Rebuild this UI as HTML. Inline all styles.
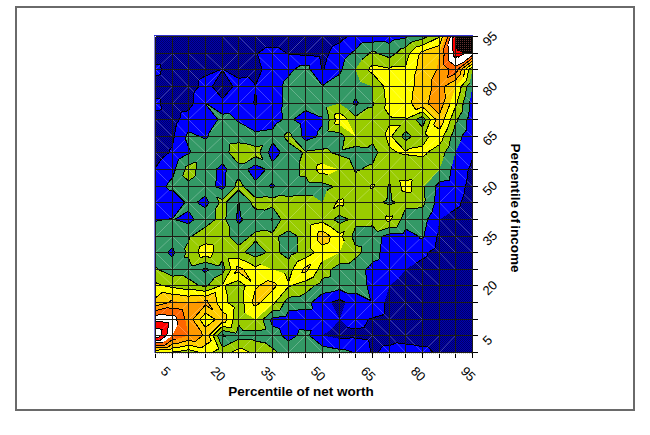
<!DOCTYPE html>
<html><head><meta charset="utf-8"><style>
html,body{margin:0;padding:0;background:#fff;}
body{width:650px;height:435px;overflow:hidden;}
svg{display:block;}
.tl{font-family:"Liberation Sans",Arial,sans-serif;font-size:13px;fill:#000;}
.tt{font-family:"Liberation Sans",Arial,sans-serif;font-size:13.5px;font-weight:bold;fill:#000;}
.dg{fill:none;stroke:#fff;stroke-opacity:0.25;stroke-width:1;}
.cl{fill:none;stroke:#000;stroke-width:1;}
</style></head><body>
<svg width="650" height="435" viewBox="0 0 650 435">
<defs>
<pattern id="navy" width="2" height="2" patternUnits="userSpaceOnUse"><rect width="2" height="2" fill="#0000B0"/><rect width="1" height="1" fill="#000068"/><rect x="1" y="1" width="1" height="1" fill="#000068"/></pattern>
<pattern id="dark" width="2" height="2" patternUnits="userSpaceOnUse"><rect width="2" height="2" fill="#000"/><rect width="1" height="1" fill="#603030"/></pattern>
</defs>
<rect x="16" y="7" width="618" height="403" fill="none" stroke="#6a6a6a" stroke-width="2"/>
<g shape-rendering="crispEdges">
<path fill="url(#navy)" d="M155.5 36.5L172.5 36.5L172.5 53.5ZM155.5 36.5L172.5 53.5L155.5 53.5ZM172.5 36.5L188.5 36.5L188.5 53.5ZM172.5 36.5L188.5 53.5L172.5 53.5ZM188.5 36.5L205.5 36.5L205.5 53.5ZM188.5 36.5L205.5 53.5L188.5 53.5ZM205.5 36.5L222.5 36.5L222.5 53.5ZM205.5 36.5L222.5 53.5L205.5 53.5ZM222.5 36.5L238.5 36.5L238.5 53.5ZM222.5 36.5L238.5 53.5L222.5 53.5ZM238.5 36.5L255.5 36.5L255.5 53.5ZM238.5 36.5L255.5 53.5L238.5 53.5ZM255.5 36.5L272.5 36.5L272.5 47.32L266.32 47.32ZM255.5 36.5L266.32 47.32L257.39 53.5L255.5 53.5ZM272.5 36.5L288.5 36.5L278.32 47.32L272.5 47.32ZM288.5 36.5L288.5 53.5L286.72 53.5L278.32 47.32ZM288.5 36.5L305.5 36.5L288.5 53.5ZM305.5 36.5L305.5 53.5L288.5 53.5ZM305.5 36.5L322.5 36.5L305.5 53.5ZM322.5 36.5L322.5 53.5L305.5 53.5ZM322.5 36.5L339.5 36.5L339.5 42.88L332.42 46.42ZM322.5 36.5L332.42 46.42L328.88 53.5L322.5 53.5ZM339.5 36.5L347.5 36.5L342.7 39.9ZM339.5 36.5L342.7 39.9L339.5 42.88ZM155.5 53.5L172.5 53.5L160.6 64.7L155.5 64.7ZM172.5 53.5L172.5 69.5L161.17 69.5L160.6 64.7ZM172.5 53.5L188.5 53.5L188.5 69.5ZM172.5 53.5L188.5 69.5L172.5 69.5ZM188.5 53.5L205.5 53.5L205.5 69.5ZM188.5 53.5L205.5 69.5L188.5 69.5ZM205.5 53.5L222.5 53.5L222.5 69.06L222.03 69.06ZM205.5 53.5L222.03 69.06L220.95 69.5L205.5 69.5ZM222.5 53.5L238.5 53.5L223.26 68.74L222.5 69.06ZM238.5 53.5L238.5 69.5L223.5 69.5L223.26 68.74ZM238.5 53.5L255.5 53.5L238.5 69.5ZM255.5 53.5L255.5 69.5L238.5 69.5ZM255.5 53.5L257.39 53.5L257.86 55.72ZM255.5 53.5L257.86 55.72L262.17 69.5L255.5 69.5ZM286.72 53.5L288.5 53.5L288.5 54.44ZM288.5 53.5L305.5 53.5L305.5 55.5L289.09 54.05ZM288.5 53.5L289.09 54.05L288.5 54.44ZM305.5 53.5L322.5 53.5L319.5 56.32L305.5 55.5ZM322.5 53.5L322.5 69.5L321.69 69.5L319.5 56.32ZM322.5 53.5L328.88 53.5L327.14 57.86ZM322.5 53.5L327.14 57.86L323.87 69.5L322.5 69.5ZM161.17 69.5L172.5 69.5L172.5 86.5L160.6 74.6ZM160.6 74.6L172.5 86.5L155.5 86.5L155.5 75.88ZM172.5 69.5L188.5 69.5L188.5 86.5ZM172.5 69.5L188.5 86.5L172.5 86.5ZM188.5 69.5L205.5 69.5L205.5 75.92L198.74 79.74ZM188.5 69.5L198.74 79.74L198.74 86.5L188.5 86.5ZM205.5 69.5L220.95 69.5L205.5 75.92ZM222.5 70.15L222.5 86.5L212.26 86.5ZM223.5 69.5L238.5 69.5L238.5 78.45ZM232.89 86.5L222.5 86.5L222.5 70.15ZM238.5 69.5L255.5 69.5L248.27 76.73L238.5 78.45ZM255.5 69.5L255.5 84.95L248.27 76.73ZM255.5 69.5L262.17 69.5L255.5 84.95ZM321.69 69.5L322.5 69.5L322.5 70.56ZM322.5 69.5L323.87 69.5L322.5 70.56ZM155.5 86.5L172.5 86.5L159.97 99.03L155.5 97.83ZM172.5 86.5L172.5 103.5L160.5 103.5L159.97 99.03ZM172.5 86.5L188.5 86.5L172.5 103.5ZM188.5 86.5L188.5 103.5L172.5 103.5ZM188.5 86.5L198.74 86.5L194.06 92.06ZM188.5 86.5L194.06 92.06L193.26 103.5L188.5 103.5ZM212.26 86.5L222.5 86.5L216.94 92.06ZM222.5 86.5L222.5 98.82L216.94 92.06ZM222.5 86.5L232.89 86.5L222.5 98.82ZM255.5 91.36L255.5 103.5L253.61 103.5ZM257.05 103.5L255.5 103.5L255.5 91.36ZM160.5 103.5L172.5 103.5L172.5 119.5L162.04 109.65ZM162.04 109.65L172.5 119.5L155.5 119.5L155.5 110.77ZM172.5 103.5L188.5 103.5L188.5 110.61L181.23 112.23ZM172.5 103.5L181.23 112.23L179.61 119.5L172.5 119.5ZM188.5 103.5L193.26 103.5L188.5 110.61ZM205.5 118.76L205.5 119.5L203.95 119.5ZM206.09 119.5L205.5 119.5L205.5 118.76ZM253.61 103.5L255.5 103.5L255.5 104.95ZM255.5 103.5L257.05 103.5L255.5 104.95ZM155.5 119.5L172.5 119.5L172.5 136.5ZM155.5 119.5L172.5 136.5L155.5 136.5ZM172.5 119.5L179.61 119.5L176.5 123.75ZM172.5 119.5L176.5 123.75L174.28 136.5L172.5 136.5ZM203.95 119.5L205.5 119.5L205.5 120.39ZM205.5 119.5L206.09 119.5L205.5 120.39ZM155.5 136.5L172.5 136.5L172.5 146.1L169.67 149.83ZM155.5 136.5L169.67 149.83L169.1 152.5L155.5 152.5ZM172.5 136.5L174.28 136.5L172.5 146.1ZM155.5 152.5L169.1 152.5L161.68 158.68ZM155.5 152.5L161.68 158.68L155.5 167.61ZM472.5 158.17L472.5 169.5L469.67 166.67ZM469.67 166.67L472.5 169.5L468.25 169.5ZM468.25 169.5L472.5 169.5L472.5 186.5L466.83 180.83ZM466.83 180.83L472.5 186.5L465.21 186.5ZM155.88 202.14L155.5 202.5L155.5 201.59ZM172.5 202.14L172.5 202.5L155.5 202.5L155.88 202.14ZM172.86 202.5L172.5 202.5L172.5 202.14ZM465.21 186.5L472.5 186.5L472.5 202.5L464 194.5ZM464 194.5L472.5 202.5L461.17 202.5ZM155.5 202.5L172.5 202.5L172.5 202.97L155.97 202.97ZM155.5 202.5L155.97 202.97L155.5 203.02ZM172.5 202.5L172.86 202.5L172.5 202.97ZM455.5 209.3L455.5 219.5L449.5 213.12ZM449.5 213.12L455.5 219.5L439.5 219.5L439.5 219.5ZM461.17 202.5L472.5 202.5L472.5 219.5L459.75 206.75ZM459.75 206.75L472.5 219.5L455.5 219.5L455.5 209.3ZM439.5 219.5L439.5 219.5L439.5 236.5L437.38 234.38ZM437.38 234.38L439.5 236.5L436.88 236.5ZM439.5 219.5L455.5 219.5L455.5 236.5ZM439.5 219.5L455.5 236.5L439.5 236.5ZM455.5 219.5L472.5 219.5L472.5 236.5ZM455.5 219.5L472.5 236.5L455.5 236.5ZM436.88 236.5L439.5 236.5L439.5 252.5L434.97 248.23ZM434.97 248.23L439.5 252.5L428.17 252.5ZM439.5 236.5L455.5 236.5L455.5 252.5ZM439.5 236.5L455.5 252.5L439.5 252.5ZM455.5 236.5L472.5 236.5L472.5 252.5ZM455.5 236.5L472.5 252.5L455.5 252.5ZM422.5 259.3L422.5 269.5L416.12 263.12ZM416.12 263.12L422.5 269.5L405.5 269.5L405.5 269.5ZM428.17 252.5L439.5 252.5L439.5 269.5L426.75 256.75ZM426.75 256.75L439.5 269.5L422.5 269.5L422.5 259.3ZM439.5 252.5L455.5 252.5L455.5 269.5ZM439.5 252.5L455.5 269.5L439.5 269.5ZM455.5 252.5L472.5 252.5L472.5 269.5ZM455.5 252.5L472.5 269.5L455.5 269.5ZM405.5 269.5L405.5 269.5L405.5 285.5L398.64 278.64ZM398.64 278.64L405.5 285.5L389.5 285.5L389.5 285.5ZM405.5 269.5L422.5 269.5L422.5 285.5ZM405.5 269.5L422.5 285.5L405.5 285.5ZM422.5 269.5L439.5 269.5L439.5 285.5ZM422.5 269.5L439.5 285.5L422.5 285.5ZM439.5 269.5L455.5 269.5L455.5 285.5ZM439.5 269.5L455.5 285.5L439.5 285.5ZM455.5 269.5L472.5 269.5L472.5 285.5ZM455.5 269.5L472.5 285.5L455.5 285.5ZM339.5 299.5L339.5 302.5L331 302.5ZM345.5 302.5L339.5 302.5L339.5 299.5ZM389.5 285.5L389.5 302.5L384.46 302.5L389.5 285.5ZM389.5 285.5L405.5 285.5L405.5 302.5ZM389.5 285.5L405.5 302.5L389.5 302.5ZM405.5 285.5L422.5 285.5L422.5 302.5ZM405.5 285.5L422.5 302.5L405.5 302.5ZM422.5 285.5L439.5 285.5L439.5 302.5ZM422.5 285.5L439.5 302.5L422.5 302.5ZM439.5 285.5L455.5 285.5L455.5 302.5ZM439.5 285.5L455.5 302.5L439.5 302.5ZM455.5 285.5L472.5 285.5L472.5 302.5ZM455.5 285.5L472.5 302.5L455.5 302.5ZM331 302.5L339.5 302.5L339.5 319.5L339.5 319.5ZM339.5 302.5L345.5 302.5L339.5 319.5L339.5 319.5ZM372.5 317.88L372.5 319.5L368.25 319.5ZM384.46 302.5L389.5 302.5L389.5 319.5L384.46 314.46ZM384.46 314.46L389.5 319.5L372.5 319.5L372.5 317.88ZM389.5 302.5L405.5 302.5L389.5 319.5ZM405.5 302.5L405.5 319.5L389.5 319.5ZM405.5 302.5L422.5 302.5L422.5 319.5ZM405.5 302.5L422.5 319.5L405.5 319.5ZM422.5 302.5L439.5 302.5L439.5 319.5ZM422.5 302.5L439.5 319.5L422.5 319.5ZM439.5 302.5L455.5 302.5L455.5 319.5ZM439.5 302.5L455.5 319.5L439.5 319.5ZM455.5 302.5L472.5 302.5L472.5 319.5ZM455.5 302.5L472.5 319.5L455.5 319.5ZM339.5 319.5L339.5 319.5L339.5 335.5L332.21 328.64ZM332.21 328.64L339.5 335.5L322.5 335.5L322.5 335.5ZM339.5 319.5L339.5 319.5L347.5 327.5L339.5 335.5ZM355.5 329.1L355.5 335.5L339.5 335.5L347.5 327.5ZM368.25 319.5L372.5 319.5L372.5 335.5L364 327.5ZM364 327.5L372.5 335.5L355.5 335.5L355.5 329.1ZM372.5 319.5L389.5 319.5L389.5 335.5ZM372.5 319.5L389.5 335.5L372.5 335.5ZM389.5 319.5L405.5 319.5L405.5 335.5ZM389.5 319.5L405.5 335.5L389.5 335.5ZM405.5 319.5L422.5 319.5L405.5 335.5ZM422.5 319.5L422.5 335.5L405.5 335.5ZM422.5 319.5L439.5 319.5L439.5 335.5ZM422.5 319.5L439.5 335.5L422.5 335.5ZM439.5 319.5L455.5 319.5L455.5 335.5ZM439.5 319.5L455.5 335.5L439.5 335.5ZM455.5 319.5L472.5 319.5L472.5 335.5ZM455.5 319.5L472.5 335.5L455.5 335.5ZM322.5 335.5L339.5 335.5L339.5 338.69L322.5 335.5ZM339.5 335.5L355.5 335.5L353.37 337.77L339.5 338.69ZM355.5 335.5L355.5 338.41L353.37 337.77ZM355.5 335.5L372.5 335.5L368.48 339.52L355.5 338.41ZM372.5 335.5L372.5 352.5L370.91 352.5L368.48 339.52ZM372.5 335.5L389.5 335.5L389.5 345.7L382.7 345.7ZM372.5 335.5L382.7 345.7L378.17 352.5L372.5 352.5ZM389.5 335.5L405.5 335.5L405.5 344L396.36 342.79ZM389.5 335.5L396.36 342.79L389.5 345.7ZM405.5 335.5L422.5 335.5L422.5 346.83L415.21 345.21ZM405.5 335.5L415.21 345.21L405.5 344ZM422.5 335.5L439.5 335.5L428.17 346.83L422.5 346.83ZM439.5 335.5L439.5 352.5L432.7 352.5L428.17 346.83ZM439.5 335.5L455.5 335.5L439.5 352.5ZM455.5 335.5L455.5 352.5L439.5 352.5ZM455.5 335.5L472.5 335.5L472.5 352.5ZM455.5 335.5L472.5 352.5L455.5 352.5Z"/>
<path fill="#0000FF" d="M272.5 47.32L272.5 53.5L266.32 47.32ZM266.32 47.32L272.5 53.5L257.39 53.5ZM278.32 47.32L272.5 53.5L272.5 47.32ZM286.72 53.5L272.5 53.5L278.32 47.32ZM339.5 42.88L339.5 53.5L332.42 46.42ZM332.42 46.42L339.5 53.5L328.88 53.5ZM347.5 36.5L355.5 36.5L355.5 49.72L353.37 51.23L342.7 39.9ZM342.7 39.9L353.37 51.23L350.93 53.5L339.5 53.5L339.5 42.88ZM355.5 36.5L372.5 36.5L372.5 42.17L361.76 42.76ZM355.5 36.5L361.76 42.76L355.5 49.72ZM372.5 36.5L389.5 36.5L384.86 41.14L372.5 42.17ZM389.5 36.5L389.5 43.79L384.86 41.14ZM389.5 36.5L405.5 36.5L405.5 37.96L393.01 40.23ZM389.5 36.5L393.01 40.23L389.5 43.79ZM405.5 36.5L408.9 36.5L406.24 37.24ZM405.5 36.5L406.24 37.24L405.5 37.96ZM160.6 64.7L155.5 69.5L155.5 64.7ZM161.17 69.5L155.5 69.5L160.6 64.7ZM222.5 69.06L222.5 69.5L222.03 69.06ZM222.03 69.06L222.5 69.5L220.95 69.5ZM223.26 68.74L222.5 69.5L222.5 69.06ZM223.5 69.5L222.5 69.5L223.26 68.74ZM257.39 53.5L272.5 53.5L272.5 69.5L257.86 55.72ZM257.86 55.72L272.5 69.5L262.17 69.5ZM272.5 53.5L286.72 53.5L288.5 54.44L288.5 69.5ZM272.5 53.5L288.5 69.5L272.5 69.5ZM305.5 55.5L305.5 65.5L300.81 65.09L289.09 54.05ZM289.09 54.05L300.81 65.09L294.17 69.5L288.5 69.5L288.5 54.44ZM319.5 56.32L309.5 65.74L305.5 65.5L305.5 55.5ZM321.69 69.5L310.13 69.5L309.5 65.74L319.5 56.32ZM328.88 53.5L339.5 53.5L339.5 69.5L327.14 57.86ZM327.14 57.86L339.5 69.5L323.87 69.5ZM339.5 53.5L350.93 53.5L344.83 58.83ZM339.5 53.5L344.83 58.83L342.17 69.5L339.5 69.5ZM155.5 69.5L161.17 69.5L160.6 74.6ZM155.5 69.5L160.6 74.6L155.5 75.88ZM205.5 75.92L205.5 86.5L198.74 79.74ZM198.74 79.74L205.5 86.5L198.74 86.5ZM220.95 69.5L222.5 69.5L205.5 86.5L205.5 75.92ZM222.5 69.5L222.5 70.15L212.26 86.5L205.5 86.5ZM222.5 69.5L223.5 69.5L238.5 78.45L238.5 86.5ZM222.5 69.5L238.5 86.5L232.89 86.5L222.5 70.15ZM248.27 76.73L238.5 86.5L238.5 78.45ZM255.5 84.95L255.5 86.5L238.5 86.5L248.27 76.73ZM262.17 69.5L272.5 69.5L255.5 86.5L255.5 84.95ZM272.5 69.5L272.5 86.5L255.5 86.5ZM272.5 69.5L288.5 69.5L288.5 76.3L283.65 81.35ZM272.5 69.5L283.65 81.35L282.5 86.5L272.5 86.5ZM288.5 69.5L294.17 69.5L288.5 76.3ZM310.13 69.5L321.69 69.5L322.5 70.56L322.5 85.74ZM323.87 69.5L339.5 69.5L325.9 83.1L322.5 85.74L322.5 70.56ZM339.5 69.5L339.5 74.36L325.9 83.1ZM339.5 69.5L342.17 69.5L339.5 74.36ZM159.97 99.03L155.5 103.5L155.5 97.83ZM160.5 103.5L155.5 103.5L159.97 99.03ZM198.74 86.5L205.5 86.5L205.5 102.77L205.17 103.17L194.06 92.06ZM194.06 92.06L205.17 103.17L205.14 103.5L193.26 103.5ZM205.5 86.5L212.26 86.5L216.94 92.06L205.83 103.17L205.5 102.77ZM222.5 98.82L222.5 103.5L206.11 103.5L205.83 103.17L216.94 92.06ZM232.89 86.5L238.5 86.5L222.5 103.5L222.5 98.82ZM238.5 86.5L238.5 103.5L222.5 103.5ZM238.5 86.5L255.5 86.5L238.5 103.5ZM255.5 86.5L255.5 91.36L253.61 103.5L238.5 103.5ZM255.5 86.5L272.5 86.5L272.5 103.5ZM255.5 86.5L272.5 103.5L257.05 103.5L255.5 91.36ZM272.5 86.5L282.5 86.5L282.5 97.12ZM272.5 86.5L282.5 97.12L282.5 103.5L272.5 103.5ZM355.5 98.64L355.5 103.5L352.83 103.5ZM358.59 103.5L355.5 103.5L355.5 98.64ZM472.5 86.5L472.5 86.5L472.5 103.5L470.07 101.07ZM470.07 101.07L472.5 103.5L469.35 103.5ZM155.5 103.5L160.5 103.5L162.04 109.65ZM155.5 103.5L162.04 109.65L155.5 110.77ZM188.5 110.61L188.5 119.5L181.23 112.23ZM181.23 112.23L188.5 119.5L179.61 119.5ZM193.26 103.5L205.14 103.5L204.54 104.41L188.5 119.5L188.5 110.61ZM205.5 103.94L205.5 118.76L203.95 119.5L188.5 119.5L204.54 104.41ZM206.11 103.5L222.5 103.5L222.5 114.21ZM217.81 119.5L206.09 119.5L205.5 118.76L205.5 103.94ZM222.5 103.5L238.5 103.5L228.9 113.1L222.5 114.21ZM238.5 103.5L238.5 119.5L235.3 119.5L228.9 113.1ZM238.5 103.5L253.61 103.5L255.5 104.95L255.5 119.5ZM238.5 103.5L255.5 119.5L238.5 119.5ZM257.05 103.5L272.5 103.5L255.5 119.5L255.5 104.95ZM272.5 103.5L272.5 119.5L255.5 119.5ZM272.5 103.5L282.5 103.5L281.64 110.36L272.5 119.5ZM283.17 119.5L272.5 119.5L281.64 110.36ZM305.5 110.61L305.5 119.5L293.36 119.5ZM322.5 116.83L322.5 119.5L319.1 116.3ZM319.1 116.3L322.5 119.5L305.5 119.5L305.5 110.61ZM323.11 119.5L322.5 119.5L322.5 116.83ZM352.83 103.5L355.5 103.5L354.4 104.6ZM355.5 103.5L355.5 105.63L354.4 104.6ZM355.5 103.5L358.59 103.5L355.5 105.63ZM469.35 103.5L472.5 103.5L472.5 119.5L468.86 116.07ZM468.86 116.07L472.5 119.5L466.83 119.5ZM179.61 119.5L188.5 119.5L188.5 131.64L186.5 134.38L176.5 123.75ZM176.5 123.75L186.5 134.38L186.13 136.5L174.28 136.5ZM188.5 119.5L203.95 119.5L205.5 120.39L205.5 136.5ZM188.5 119.5L205.5 136.5L199.83 136.5L188.5 131.64ZM206.09 119.5L217.81 119.5L208.9 133.1L205.5 136.5L205.5 120.39ZM208.33 136.5L205.5 136.5L208.9 133.1ZM235.3 119.5L238.5 119.5L238.5 121.93ZM238.5 119.5L255.5 119.5L255.5 131.64L244.17 125.17ZM238.5 119.5L244.17 125.17L238.5 121.93ZM255.5 119.5L272.5 119.5L261.17 130.83L255.5 131.64ZM272.5 119.5L272.5 129.21L261.17 130.83ZM272.5 119.5L283.17 119.5L276.26 123.5ZM272.5 119.5L276.26 123.5L272.5 129.21ZM293.36 119.5L305.5 119.5L300.78 124.22ZM305.5 119.5L305.5 136.5L301.5 136.5L300.78 124.22ZM305.5 119.5L322.5 119.5L322.5 125.17L317.64 131.64ZM305.5 119.5L317.64 131.64L316.83 136.5L305.5 136.5ZM322.5 119.5L323.11 119.5L322.5 125.17ZM466.83 119.5L472.5 119.5L472.5 136.5L466.24 130.24ZM466.24 130.24L472.5 136.5L461.68 136.5ZM172.5 146.1L172.5 152.5L169.67 149.83ZM169.67 149.83L172.5 152.5L169.1 152.5ZM174.28 136.5L186.13 136.5L185.59 139.41L172.5 152.5L172.5 146.1ZM188.5 147.17L188.5 152.5L172.5 152.5L185.59 139.41ZM199.83 136.5L205.5 136.5L205.5 139.17ZM191.33 152.5L188.5 152.5L188.5 147.17ZM205.5 136.5L208.33 136.5L205.5 139.17ZM272.5 142.5L272.5 152.5L268.25 152.5ZM280.5 152.5L272.5 152.5L272.5 142.5ZM301.5 136.5L305.5 136.5L305.5 140.77ZM305.5 136.5L316.83 136.5L305.5 140.77ZM461.68 136.5L472.5 136.5L472.5 152.5L460.73 141.42ZM460.73 141.42L472.5 152.5L455.5 152.5L455.5 152.5ZM169.1 152.5L172.5 152.5L172.5 169.5L161.68 158.68ZM161.68 158.68L172.5 169.5L155.5 169.5L155.5 167.61ZM172.5 152.5L188.5 152.5L188.5 153.63L178.76 159.15ZM172.5 152.5L178.76 159.15L175.32 169.5L172.5 169.5ZM188.5 152.5L191.33 152.5L188.5 153.63ZM222.5 163.83L222.5 169.5L216.12 169.5ZM227.3 169.5L222.5 169.5L222.5 163.83ZM255.5 164.64L255.5 169.5L247.65 169.5ZM268.25 152.5L272.5 152.5L272.5 161.94ZM265.7 169.5L255.5 169.5L255.5 164.64ZM272.5 152.5L280.5 152.5L272.5 161.94ZM455.5 152.5L455.5 152.5L455.5 169.5L452.13 165.92ZM452.13 165.92L455.5 169.5L450.93 169.5ZM455.5 152.5L472.5 152.5L472.5 158.17L469.67 166.67ZM455.5 152.5L469.67 166.67L468.25 169.5L455.5 169.5ZM155.5 169.5L172.5 169.5L172.5 178L168.42 182.42ZM155.5 169.5L168.42 182.42L166.12 186.5L155.5 186.5ZM172.5 169.5L175.32 169.5L172.5 178ZM216.12 169.5L222.5 169.5L222.5 186.5L216.12 180.12ZM216.12 180.12L222.5 186.5L215.21 186.5ZM222.5 169.5L227.3 169.5L225.5 172.69ZM222.5 169.5L225.5 172.69L225.5 186.5L222.5 186.5ZM247.65 169.5L255.5 169.5L255.5 180.83ZM255.5 169.5L265.7 169.5L255.5 180.83ZM272.5 183.1L272.5 186.5L268.25 186.5ZM275.17 186.5L272.5 186.5L272.5 183.1ZM439.5 181.64L439.5 186.5L435.25 186.5ZM450.93 169.5L455.5 169.5L455.5 186.5L449.5 180.12ZM449.5 180.12L455.5 186.5L439.5 186.5L439.5 181.64ZM455.5 169.5L468.25 169.5L466.83 180.83ZM455.5 169.5L466.83 180.83L465.21 186.5L455.5 186.5ZM155.5 186.5L166.12 186.5L168.67 190.11L155.88 202.14L155.5 201.59ZM172.5 190.11L172.5 202.14L155.88 202.14L168.67 190.11ZM184.89 202.5L172.86 202.5L172.5 202.14L172.5 190.11ZM205.5 195.64L205.5 202.5L197 202.5ZM215.21 186.5L222.5 186.5L222.5 189.5ZM208.69 202.5L205.5 202.5L205.5 195.64ZM222.5 186.5L225.5 186.5L222.5 189.5ZM238.5 202.14L238.5 202.5L238.14 202.5ZM238.88 202.5L238.5 202.5L238.5 202.14ZM268.25 186.5L272.5 186.5L272.5 187.57ZM272.5 186.5L275.17 186.5L272.5 187.57ZM435.25 186.5L439.5 186.5L435.38 190.38ZM439.5 186.5L439.5 202.5L434.64 202.5L435.38 190.38ZM439.5 186.5L455.5 186.5L439.5 202.5ZM455.5 186.5L455.5 202.5L439.5 202.5ZM455.5 186.5L465.21 186.5L464 194.5ZM455.5 186.5L464 194.5L461.17 202.5L455.5 202.5ZM172.5 202.97L172.5 218.71L171.71 218.71L155.97 202.97ZM155.97 202.97L171.71 218.71L164 219.5L155.5 219.5L155.5 203.02ZM172.86 202.5L184.89 202.5L172.5 218.71L172.5 202.97ZM188.5 211L188.5 219.5L174.79 219.5ZM197 202.5L205.5 202.5L205.5 208.17ZM194.17 219.5L188.5 219.5L188.5 211ZM205.5 202.5L208.69 202.5L205.5 208.17ZM238.14 202.5L238.5 202.5L238.14 202.88ZM238.5 202.5L238.5 219.5L236.37 219.5L238.14 202.88ZM238.5 202.5L238.88 202.5L240.77 217.23L238.5 219.5ZM243.36 219.5L238.5 219.5L240.77 217.23ZM272.5 218.37L272.5 219.5L269.67 219.5ZM273.28 219.5L272.5 219.5L272.5 218.37ZM434.64 202.5L439.5 202.5L439.5 219.5L431.94 211.94ZM431.94 211.94L439.5 219.5L427.36 219.5ZM439.5 202.5L455.5 202.5L455.5 209.3L449.5 213.12ZM439.5 202.5L449.5 213.12L439.5 219.5L439.5 219.5ZM455.5 202.5L461.17 202.5L459.75 206.75ZM455.5 202.5L459.75 206.75L455.5 209.3ZM155.5 219.5L164 219.5L155.5 221.39ZM174.79 219.5L188.5 219.5L188.5 223.75ZM188.5 219.5L194.17 219.5L188.5 223.75ZM236.37 219.5L238.5 219.5L238.5 223.75ZM238.5 219.5L243.36 219.5L238.5 223.75ZM269.67 219.5L272.5 219.5L272.5 220.71ZM272.5 219.5L273.28 219.5L272.5 220.71ZM389.5 233.88L389.5 236.5L381.94 236.5ZM405.5 228.94L405.5 236.5L403.04 233.88ZM403.04 233.88L405.5 236.5L389.5 236.5L389.5 233.88ZM419.1 236.5L405.5 236.5L405.5 228.94ZM427.36 219.5L439.5 219.5L439.5 219.5L437.38 234.38L426.75 223.75ZM426.75 223.75L437.38 234.38L436.88 236.5L423.81 236.5ZM439.5 219.5L439.5 219.5L439.5 219.5ZM439.5 219.5L439.5 219.5L439.5 219.5ZM172.5 247.17L172.5 252.5L167.64 252.5ZM174.79 252.5L172.5 252.5L172.5 247.17ZM381.94 236.5L389.5 236.5L389.5 252.5L381 244.5ZM381 244.5L389.5 252.5L380.06 252.5ZM389.5 236.5L405.5 236.5L405.5 252.5ZM389.5 236.5L405.5 252.5L389.5 252.5ZM405.5 236.5L419.1 236.5L419.67 239.17L405.5 252.5ZM422.5 238.28L422.5 252.5L405.5 252.5L419.67 239.17ZM423.81 236.5L436.88 236.5L434.97 248.23L423.63 237.57ZM423.63 237.57L434.97 248.23L428.17 252.5L422.5 252.5L422.5 238.28ZM167.64 252.5L172.5 252.5L172.5 257.36ZM172.5 252.5L174.79 252.5L172.5 257.36ZM205.5 268.29L205.5 269.5L201.25 269.5ZM209.75 269.5L205.5 269.5L205.5 268.29ZM372.5 262.21L372.5 269.5L369.31 266.31ZM369.31 266.31L372.5 269.5L365.21 269.5ZM380.06 252.5L389.5 252.5L389.5 269.5L379.3 259.3ZM379.3 259.3L389.5 269.5L372.5 269.5L372.5 262.21ZM389.5 252.5L405.5 252.5L389.5 269.5ZM405.5 252.5L405.5 269.5L389.5 269.5ZM405.5 252.5L422.5 252.5L422.5 259.3L416.12 263.12ZM405.5 252.5L416.12 263.12L405.5 269.5L405.5 269.5ZM422.5 252.5L428.17 252.5L426.75 256.75ZM422.5 252.5L426.75 256.75L422.5 259.3ZM201.25 269.5L205.5 269.5L205.5 272.7ZM205.5 269.5L209.75 269.5L206.98 270.89ZM205.5 269.5L206.98 270.89L205.5 272.7ZM365.21 269.5L372.5 269.5L372.5 285.5L366.83 280.17ZM366.83 280.17L372.5 285.5L366.83 285.5ZM372.5 269.5L389.5 269.5L372.5 285.5ZM389.5 269.5L389.5 285.5L372.5 285.5ZM389.5 269.5L405.5 269.5L405.5 269.5L398.64 278.64ZM389.5 269.5L398.64 278.64L389.5 285.5L389.5 285.5ZM405.5 269.5L405.5 269.5L405.5 269.5ZM405.5 269.5L405.5 269.5L405.5 269.5ZM322.5 293.35L322.5 302.5L311.68 302.5ZM333.32 291.68L322.5 302.5L322.5 293.35ZM339.5 289.5L339.5 299.5L331 302.5L322.5 302.5L333.32 291.68ZM355.5 293.06L355.5 302.5L346.61 293.06ZM346.61 293.06L355.5 302.5L345.5 302.5L339.5 299.5L339.5 289.5ZM366.83 285.5L372.5 285.5L372.5 302.5L370.61 300.61ZM370.61 300.61L372.5 302.5L355.5 302.5L355.5 293.06ZM372.5 285.5L389.5 285.5L372.5 302.5ZM389.5 285.5L389.5 285.5L384.46 302.5L372.5 302.5ZM389.5 285.5L389.5 285.5L389.5 285.5ZM389.5 285.5L389.5 285.5L389.5 285.5ZM272.5 317.54L272.5 319.5L270.28 319.5ZM288.5 311L288.5 319.5L285.64 316.46ZM285.64 316.46L288.5 319.5L272.5 319.5L272.5 317.54ZM305.5 309.3L305.5 319.5L296.23 310.23ZM296.23 310.23L305.5 319.5L288.5 319.5L288.5 311ZM311.68 302.5L322.5 302.5L322.5 319.5L312.3 309.3ZM312.3 309.3L322.5 319.5L305.5 319.5L305.5 309.3ZM322.5 302.5L331 302.5L339.5 319.5L339.5 319.5ZM322.5 302.5L339.5 319.5L322.5 319.5ZM345.5 302.5L355.5 302.5L339.5 319.5L339.5 319.5ZM355.5 302.5L355.5 319.5L339.5 319.5ZM355.5 302.5L372.5 302.5L355.5 319.5ZM372.5 302.5L372.5 317.88L368.25 319.5L355.5 319.5ZM372.5 302.5L384.46 302.5L384.46 314.46ZM372.5 302.5L384.46 314.46L372.5 317.88ZM222.5 334.66L222.5 335.5L221.65 335.5ZM226.5 335.5L222.5 335.5L222.5 334.66ZM270.28 319.5L272.5 319.5L272.5 326.36ZM272.5 319.5L288.5 319.5L279.61 328.39L272.5 326.36ZM288.5 319.5L288.5 335.5L281.64 335.5L279.61 328.39ZM288.5 319.5L305.5 319.5L305.5 330.17L299.12 329.5ZM288.5 319.5L299.12 329.5L297 335.5L288.5 335.5ZM305.5 319.5L322.5 319.5L311.17 330.17L305.5 330.17ZM322.5 319.5L322.5 335.5L309.42 335.5L311.17 330.17ZM322.5 319.5L339.5 319.5L339.5 319.5L332.21 328.64ZM322.5 319.5L332.21 328.64L322.5 335.5L322.5 335.5ZM339.5 319.5L355.5 319.5L347.5 327.5L339.5 319.5ZM355.5 319.5L355.5 329.1L347.5 327.5ZM355.5 319.5L368.25 319.5L364 327.5ZM355.5 319.5L364 327.5L355.5 329.1ZM221.65 335.5L222.5 335.5L222.5 337.5ZM222.5 335.5L226.5 335.5L223.73 336.81ZM222.5 335.5L223.73 336.81L222.5 337.5ZM281.64 335.5L288.5 335.5L288.5 341.17ZM288.5 335.5L297 335.5L288.5 341.17ZM309.42 335.5L322.5 335.5L322.5 346.12ZM322.5 335.5L322.5 335.5L339.5 338.69L339.5 349.31L335.58 348.58ZM322.5 335.5L335.58 348.58L322.5 346.12ZM353.37 337.77L342.7 349.1L339.5 349.31L339.5 338.69ZM355.5 338.41L355.5 352.5L354.05 352.5L342.7 349.1L353.37 337.77ZM368.48 339.52L355.5 352.5L355.5 338.41ZM370.91 352.5L355.5 352.5L368.48 339.52ZM389.5 345.7L389.5 352.5L382.7 345.7ZM382.7 345.7L389.5 352.5L378.17 352.5ZM405.5 344L405.5 352.5L396.36 342.79ZM396.36 342.79L405.5 352.5L389.5 352.5L389.5 345.7ZM422.5 346.83L422.5 352.5L415.21 345.21ZM415.21 345.21L422.5 352.5L405.5 352.5L405.5 344ZM428.17 346.83L422.5 352.5L422.5 346.83ZM432.7 352.5L422.5 352.5L428.17 346.83Z"/>
<path fill="#339966" d="M355.5 49.72L355.5 53.5L353.37 51.23ZM353.37 51.23L355.5 53.5L350.93 53.5ZM372.5 42.17L372.5 51.61L370.71 51.71L361.76 42.76ZM361.76 42.76L370.71 51.71L369.1 53.5L355.5 53.5L355.5 49.72ZM384.86 41.14L374.56 51.44L372.5 51.61L372.5 42.17ZM389.5 43.79L389.5 53.5L378.17 53.5L374.56 51.44L384.86 41.14ZM405.5 37.96L405.5 47.67L400.82 48.52L393.01 40.23ZM393.01 40.23L400.82 48.52L395.9 53.5L389.5 53.5L389.5 43.79ZM408.9 36.5L422.5 36.5L422.5 39.02L411.17 42.17L406.24 37.24ZM406.24 37.24L411.17 42.17L405.5 47.67L405.5 37.96ZM422.5 36.5L427.73 36.5L422.5 39.02ZM305.5 65.5L305.5 69.5L300.81 65.09ZM300.81 65.09L305.5 69.5L294.17 69.5ZM309.5 65.74L305.5 69.5L305.5 65.5ZM310.13 69.5L305.5 69.5L309.5 65.74ZM350.93 53.5L355.5 53.5L355.5 69.5L344.83 58.83ZM344.83 58.83L355.5 69.5L342.17 69.5ZM355.5 53.5L369.1 53.5L361.98 59.6ZM355.5 53.5L361.98 59.6L355.5 69.5L355.5 69.5ZM378.17 53.5L389.5 53.5L389.5 57.77ZM389.5 53.5L395.9 53.5L389.5 57.77ZM288.5 76.3L288.5 86.5L283.65 81.35ZM283.65 81.35L288.5 86.5L282.5 86.5ZM294.17 69.5L305.5 69.5L288.5 86.5L288.5 76.3ZM305.5 69.5L305.5 86.5L288.5 86.5ZM305.5 69.5L310.13 69.5L322.5 85.74L322.5 86.5ZM305.5 69.5L322.5 86.5L305.5 86.5ZM325.9 83.1L322.5 86.5L322.5 85.74ZM339.5 74.36L339.5 86.5L322.5 86.5L325.9 83.1ZM342.17 69.5L355.5 69.5L339.5 86.5L339.5 74.36ZM355.5 69.5L355.5 86.5L339.5 86.5ZM355.5 69.5L355.5 69.5L360.22 81.78L355.5 86.5ZM372.5 86.5L372.5 86.5L355.5 86.5L360.22 81.78ZM472.5 69.5L472.5 69.5L472.5 86.5L469.46 83.46ZM469.46 83.46L472.5 86.5L466.83 86.5ZM205.5 102.77L205.5 103.5L205.17 103.17ZM205.17 103.17L205.5 103.5L205.14 103.5ZM205.83 103.17L205.5 103.5L205.5 102.77ZM206.11 103.5L205.5 103.5L205.83 103.17ZM282.5 86.5L288.5 86.5L288.5 103.5L282.5 97.12ZM282.5 97.12L288.5 103.5L282.5 103.5ZM288.5 86.5L305.5 86.5L305.5 103.5ZM288.5 86.5L305.5 103.5L288.5 103.5ZM305.5 86.5L322.5 86.5L322.5 103.5ZM305.5 86.5L322.5 103.5L305.5 103.5ZM322.5 86.5L339.5 86.5L339.5 103.5ZM322.5 86.5L339.5 103.5L322.5 103.5ZM339.5 86.5L355.5 86.5L339.5 103.5ZM355.5 86.5L355.5 98.64L352.83 103.5L339.5 103.5ZM355.5 86.5L372.5 86.5L372.5 103.5ZM355.5 86.5L372.5 103.5L358.59 103.5L355.5 98.64ZM372.5 86.5L372.5 86.5L373.56 102.44L372.5 103.5ZM373.71 103.5L372.5 103.5L373.56 102.44ZM466.83 86.5L472.5 86.5L472.5 86.5L470.07 101.07L465.21 96.21ZM465.21 96.21L470.07 101.07L469.35 103.5L463.06 103.5ZM205.14 103.5L205.5 103.5L204.54 104.41ZM205.5 103.5L205.5 103.94L204.54 104.41ZM205.5 103.5L206.11 103.5L222.5 114.21L222.5 119.5ZM205.5 103.5L222.5 119.5L217.81 119.5L205.5 103.94ZM228.9 113.1L222.5 119.5L222.5 114.21ZM235.3 119.5L222.5 119.5L228.9 113.1ZM282.5 103.5L288.5 103.5L281.64 110.36ZM288.5 103.5L288.5 119.5L283.17 119.5L281.64 110.36ZM288.5 103.5L305.5 103.5L288.5 119.5ZM305.5 103.5L305.5 110.61L293.36 119.5L288.5 119.5ZM305.5 103.5L322.5 103.5L322.5 116.83L319.1 116.3ZM305.5 103.5L319.1 116.3L305.5 110.61ZM322.5 103.5L339.5 103.5L339.5 103.5L326.36 107.14ZM322.5 103.5L326.36 107.14L329.18 119.5L323.11 119.5L322.5 116.83ZM339.5 103.5L352.83 103.5L354.4 104.6L348.88 110.12L339.5 103.5ZM355.5 105.63L355.5 116.3L348.88 110.12L354.4 104.6ZM358.59 103.5L372.5 103.5L368.25 107.5L355.5 116.3L355.5 105.63ZM372.5 103.5L372.5 107.5L368.25 107.5ZM372.5 103.5L373.71 103.5L372.5 107.5ZM422.5 116.59L422.5 119.5L415.7 119.5ZM425.59 119.5L422.5 119.5L422.5 116.59ZM463.06 103.5L469.35 103.5L468.86 116.07L462.79 110.36ZM462.79 110.36L468.86 116.07L466.83 119.5L457.39 119.5ZM188.5 131.64L188.5 136.5L186.5 134.38ZM186.5 134.38L188.5 136.5L186.13 136.5ZM199.83 136.5L188.5 136.5L188.5 131.64ZM217.81 119.5L222.5 119.5L208.9 133.1ZM222.5 119.5L222.5 136.5L208.33 136.5L208.9 133.1ZM222.5 119.5L235.3 119.5L238.5 121.93L238.5 136.5ZM222.5 119.5L238.5 136.5L222.5 136.5ZM255.5 131.64L255.5 136.5L244.17 125.17ZM244.17 125.17L255.5 136.5L238.5 136.5L238.5 121.93ZM261.17 130.83L255.5 136.5L255.5 131.64ZM272.5 129.21L272.5 136.5L255.5 136.5L261.17 130.83ZM283.17 119.5L288.5 119.5L288.5 131.86L285.68 133.5L276.26 123.5ZM276.26 123.5L285.68 133.5L283.7 136.5L272.5 136.5L272.5 129.21ZM288.5 119.5L293.36 119.5L300.78 124.22L291.33 133.67L288.5 131.86ZM301.5 136.5L291.5 136.5L291.33 133.67L300.78 124.22ZM322.5 125.17L322.5 136.5L317.64 131.64ZM317.64 131.64L322.5 136.5L316.83 136.5ZM323.11 119.5L329.18 119.5L327.94 131.06L322.5 136.5L322.5 125.17ZM339.5 132.64L339.5 136.5L322.5 136.5L327.94 131.06ZM344.83 136.5L339.5 136.5L339.5 132.64ZM405.5 131.27L405.5 136.5L401.5 136.5ZM415.7 119.5L422.5 119.5L422.5 127.35ZM411.68 136.5L405.5 136.5L405.5 131.27ZM422.5 119.5L425.59 119.5L422.5 127.35ZM455.5 123.75L455.5 136.5L452.59 133.41ZM452.59 133.41L455.5 136.5L450.93 136.5ZM457.39 119.5L466.83 119.5L466.24 130.24L457.29 121.29ZM457.29 121.29L466.24 130.24L461.68 136.5L455.5 136.5L455.5 123.75ZM186.13 136.5L188.5 136.5L185.59 139.41ZM188.5 136.5L188.5 147.17L185.59 139.41ZM188.5 136.5L199.83 136.5L205.5 139.17L205.5 152.5ZM188.5 136.5L205.5 152.5L191.33 152.5L188.5 147.17ZM208.33 136.5L222.5 136.5L205.5 152.5L205.5 139.17ZM222.5 136.5L222.5 152.5L205.5 152.5ZM222.5 136.5L238.5 136.5L238.5 142.9L229.77 143.77ZM222.5 136.5L229.77 143.77L228.9 152.5L222.5 152.5ZM238.5 136.5L255.5 136.5L255.5 146.35L246.06 143.61ZM238.5 136.5L246.06 143.61L238.5 142.9ZM255.5 136.5L272.5 136.5L262.58 145.83L255.5 146.35ZM272.5 136.5L272.5 142.5L268.25 152.5L259.75 152.5L262.58 145.83ZM272.5 136.5L283.7 136.5L288.5 142.5L288.5 152.5ZM272.5 136.5L288.5 152.5L280.5 152.5L272.5 142.5ZM291.5 136.5L301.5 136.5L305.5 140.77L305.5 151.43ZM302.67 152.5L288.5 152.5L288.5 142.5ZM316.83 136.5L322.5 136.5L307.39 150.72L305.5 151.43L305.5 140.77ZM322.5 136.5L322.5 149.3L307.39 150.72ZM322.5 136.5L339.5 136.5L327.36 147.93L322.5 149.3ZM339.5 136.5L339.5 152.5L331 152.5L327.36 147.93ZM339.5 136.5L344.83 136.5L342.17 149.83L339.5 152.5ZM355.5 146.5L355.5 152.5L339.5 152.5L342.17 149.83ZM372.5 143.36L372.5 152.5L367.64 147.93ZM367.64 147.93L372.5 152.5L355.5 152.5L355.5 146.5ZM377.73 152.5L372.5 152.5L372.5 143.36ZM401.5 136.5L405.5 136.5L405.5 140.77ZM405.5 136.5L411.68 136.5L405.5 140.77ZM450.93 136.5L455.5 136.5L455.5 152.5L449.1 146.1ZM449.1 146.1L455.5 152.5L444.83 152.5ZM455.5 136.5L461.68 136.5L460.73 141.42ZM455.5 136.5L460.73 141.42L455.5 152.5L455.5 152.5ZM188.5 153.63L188.5 164.97L185.72 166.54L178.76 159.15ZM178.76 159.15L185.72 166.54L184.74 169.5L175.32 169.5ZM191.33 152.5L205.5 152.5L196.06 161.94L188.5 164.97L188.5 153.63ZM205.5 152.5L205.5 169.5L196.06 169.5L196.06 161.94ZM205.5 152.5L222.5 152.5L205.5 169.5ZM222.5 152.5L222.5 163.83L216.12 169.5L205.5 169.5ZM222.5 152.5L228.9 152.5L238.5 163.83L238.5 169.5ZM222.5 152.5L238.5 169.5L227.3 169.5L222.5 163.83ZM244.88 163.12L238.5 169.5L238.5 163.83ZM255.5 156.55L255.5 164.64L247.65 169.5L238.5 169.5L244.88 163.12ZM259.75 152.5L268.25 152.5L272.5 161.94L272.5 169.5L263.23 160.23ZM263.23 160.23L272.5 169.5L265.7 169.5L255.5 164.64L255.5 156.55ZM280.5 152.5L288.5 152.5L272.5 169.5L272.5 161.94ZM288.5 152.5L288.5 169.5L272.5 169.5ZM288.5 152.5L302.67 152.5L299.12 163.12ZM288.5 152.5L299.12 163.12L299.12 169.5L288.5 169.5ZM331 152.5L339.5 152.5L339.5 155.33ZM339.5 152.5L355.5 152.5L349.5 158.88L339.5 155.33ZM355.5 152.5L355.5 169.5L354.05 169.5L349.5 158.88ZM355.5 152.5L372.5 152.5L372.5 163.83L368.25 165.25ZM355.5 152.5L368.25 165.25L361.17 169.5L355.5 169.5ZM372.5 152.5L377.73 152.5L372.5 163.83ZM444.83 152.5L455.5 152.5L455.5 152.5L452.13 165.92L443.71 156.97ZM443.71 156.97L452.13 165.92L450.93 169.5L439.5 169.5L439.5 169.5ZM455.5 152.5L455.5 152.5L455.5 152.5ZM455.5 152.5L455.5 152.5L455.5 152.5ZM172.5 178L172.5 186.5L168.42 182.42ZM168.42 182.42L172.5 186.5L166.12 186.5ZM175.32 169.5L184.74 169.5L182.68 175.68L172.5 186.5L172.5 178ZM188.5 180.83L188.5 186.5L172.5 186.5L182.68 175.68ZM196.06 169.5L205.5 169.5L205.5 186.5L195.3 176.3ZM195.3 176.3L205.5 186.5L188.5 186.5L188.5 180.83ZM205.5 169.5L216.12 169.5L216.12 180.12ZM205.5 169.5L216.12 180.12L215.21 186.5L205.5 186.5ZM227.3 169.5L238.5 169.5L238.5 178L235.5 183.31L225.5 172.69ZM225.5 172.69L235.5 183.31L235.5 186.5L225.5 186.5ZM238.5 169.5L247.65 169.5L255.5 180.83L255.5 186.5ZM238.5 169.5L255.5 186.5L243.6 186.5L238.5 178ZM265.7 169.5L272.5 169.5L255.5 186.5L255.5 180.83ZM272.5 169.5L272.5 183.1L268.25 186.5L255.5 186.5ZM272.5 169.5L288.5 169.5L288.5 186.5ZM272.5 169.5L288.5 186.5L275.17 186.5L272.5 183.1ZM288.5 169.5L299.12 169.5L299.12 175.88L288.5 186.5ZM305.5 176.79L305.5 186.5L288.5 186.5L299.12 175.88ZM309.28 182.72L305.5 186.5L305.5 176.79ZM322.5 182.72L322.5 186.5L305.5 186.5L309.28 182.72ZM333.83 186.5L322.5 186.5L322.5 182.72ZM354.05 169.5L355.5 169.5L355.5 173.75ZM355.5 169.5L361.17 169.5L356.92 170.92ZM355.5 169.5L356.92 170.92L355.5 173.75ZM389.5 182.25L389.5 186.5L388.08 186.5ZM390.57 186.5L389.5 186.5L389.5 182.25ZM439.5 169.5L439.5 181.64L435.25 186.5L424.62 186.5L439.5 169.5ZM439.5 169.5L450.93 169.5L449.5 180.12ZM439.5 169.5L449.5 180.12L439.5 181.64ZM166.12 186.5L172.5 186.5L168.67 190.11ZM172.5 186.5L172.5 190.11L168.67 190.11ZM172.5 186.5L188.5 186.5L188.5 202.5ZM172.5 186.5L188.5 202.5L184.89 202.5L172.5 190.11ZM188.5 186.5L205.5 186.5L188.5 202.5ZM205.5 186.5L205.5 195.64L197 202.5L188.5 202.5ZM205.5 186.5L215.21 186.5L222.5 189.5L222.5 199.5L216.83 197.17ZM205.5 186.5L216.83 197.17L219.31 202.5L208.69 202.5L205.5 195.64ZM225.5 186.5L235.5 186.5L222.5 199.5L222.5 189.5ZM238.5 190.11L238.5 202.14L238.14 202.5L226.11 202.5ZM243.6 186.5L255.5 186.5L255.5 197.7ZM251.67 202.5L238.88 202.5L238.5 202.14L238.5 190.11ZM255.5 186.5L268.25 186.5L272.5 187.57L272.5 198.23L266.32 196.68ZM255.5 186.5L266.32 196.68L255.5 197.7ZM275.17 186.5L288.5 186.5L279.61 195.39L272.5 198.23L272.5 187.57ZM288.5 186.5L288.5 196.5L279.61 195.39ZM288.5 186.5L305.5 186.5L295.79 195.64L288.5 196.5ZM305.5 186.5L305.5 195.64L295.79 195.64ZM305.5 186.5L322.5 186.5L312.79 195.64L305.5 195.64ZM322.5 186.5L322.5 202.5L322.5 202.5L312.79 195.64ZM322.5 186.5L333.83 186.5L326.75 190.5ZM322.5 186.5L326.75 190.5L322.5 202.5L322.5 202.5ZM388.08 186.5L389.5 186.5L389.5 202.5L386.88 200.04ZM386.88 200.04L389.5 202.5L382.7 202.5ZM389.5 186.5L390.57 186.5L391.5 200.5L389.5 202.5ZM395.9 202.5L389.5 202.5L391.5 200.5ZM424.62 186.5L435.25 186.5L435.38 190.38L425.08 200.08ZM434.64 202.5L424.93 202.5L425.08 200.08L435.38 190.38ZM172.5 218.71L172.5 219.5L171.71 218.71ZM171.71 218.71L172.5 219.5L164 219.5ZM184.89 202.5L188.5 202.5L172.5 219.5L172.5 218.71ZM188.5 202.5L188.5 211L174.79 219.5L172.5 219.5ZM188.5 202.5L197 202.5L205.5 208.17L205.5 219.5ZM188.5 202.5L205.5 219.5L194.17 219.5L188.5 211ZM208.69 202.5L219.31 202.5L215.21 209.79L205.5 219.5L205.5 208.17ZM215.21 219.5L205.5 219.5L215.21 209.79ZM226.11 202.5L238.14 202.5L238.14 202.88L226.11 215.67ZM236.37 219.5L225.7 219.5L226.11 215.67L238.14 202.88ZM238.88 202.5L251.67 202.5L252.1 205.9L240.77 217.23ZM255.5 208.88L255.5 219.5L243.36 219.5L240.77 217.23L252.1 205.9ZM264.94 210.06L255.5 219.5L255.5 208.88ZM272.5 207.03L272.5 218.37L269.67 219.5L255.5 219.5L264.94 210.06ZM281.09 219.5L273.28 219.5L272.5 218.37L272.5 207.03ZM339.5 215.25L339.5 219.5L333.32 219.5ZM348.64 219.5L339.5 219.5L339.5 215.25ZM382.7 202.5L389.5 202.5L389.5 204.93ZM389.5 202.5L395.9 202.5L389.5 204.93ZM405.5 208.88L405.5 219.5L400.79 219.5ZM416.83 208.17L405.5 219.5L405.5 208.88ZM422.5 207.5L422.5 219.5L405.5 219.5L416.83 208.17ZM424.93 202.5L434.64 202.5L431.94 211.94L424.39 204.39ZM424.39 204.39L431.94 211.94L427.36 219.5L422.5 219.5L422.5 207.5ZM164 219.5L172.5 219.5L155.5 236.5L155.5 221.39ZM172.5 219.5L172.5 236.5L155.5 236.5ZM172.5 219.5L174.79 219.5L188.5 223.75L188.5 236.5ZM172.5 219.5L188.5 236.5L172.5 236.5ZM194.17 219.5L205.5 219.5L188.5 236.5L188.5 223.75ZM205.5 219.5L205.5 227.06L191.33 236.5L188.5 236.5ZM205.5 219.5L215.21 219.5L205.5 227.06ZM225.7 219.5L236.37 219.5L238.5 223.75L238.5 236.5L229.36 226.79ZM229.36 226.79L238.5 236.5L229.36 236.5ZM243.36 219.5L255.5 219.5L238.5 236.5L238.5 223.75ZM255.5 219.5L255.5 231.64L249.83 236.5L238.5 236.5ZM255.5 219.5L269.67 219.5L272.5 220.71L272.5 232.86L266.12 230.12ZM255.5 219.5L266.12 230.12L255.5 231.64ZM273.28 219.5L281.09 219.5L272.5 232.86L272.5 220.71ZM288.5 230.64L288.5 236.5L278.5 236.5ZM297.94 236.5L288.5 236.5L288.5 230.64ZM333.32 219.5L339.5 219.5L337.23 221.77ZM339.5 219.5L339.5 223.5L337.23 221.77ZM339.5 219.5L348.64 219.5L339.5 223.5ZM355.5 226.79L355.5 236.5L351.74 236.5ZM365.21 226.79L355.5 236.5L355.5 226.79ZM372.5 225.88L372.5 236.5L355.5 236.5L365.21 226.79ZM377.5 231.5L372.5 236.5L372.5 225.88ZM389.5 227.35L389.5 233.88L381.94 236.5L372.5 236.5L377.5 231.5ZM400.79 219.5L405.5 219.5L405.5 228.94L403.04 233.88L396.88 227.35ZM396.88 227.35L403.04 233.88L389.5 233.88L389.5 227.35ZM405.5 219.5L422.5 219.5L422.5 236.5ZM405.5 219.5L422.5 236.5L419.1 236.5L405.5 228.94ZM422.5 219.5L427.36 219.5L426.75 223.75ZM422.5 219.5L426.75 223.75L423.81 236.5L422.5 236.5ZM155.5 236.5L172.5 236.5L155.5 252.5ZM172.5 236.5L172.5 247.17L167.64 252.5L155.5 252.5ZM172.5 236.5L188.5 236.5L188.5 241.83L184.5 248.5ZM172.5 236.5L184.5 248.5L186.21 252.5L174.79 252.5L172.5 247.17ZM188.5 236.5L191.33 236.5L189.5 237.44ZM188.5 236.5L189.5 237.44L188.5 241.83ZM229.36 236.5L238.5 236.5L238.5 245.64ZM238.5 236.5L249.83 236.5L238.5 245.64ZM255.5 241.07L255.5 252.5L244.88 252.5ZM266.12 252.5L255.5 252.5L255.5 241.07ZM278.5 236.5L288.5 236.5L288.5 252.5L279.36 243.36ZM279.36 243.36L288.5 252.5L279.36 252.5ZM288.5 236.5L297.94 236.5L297 244.5L288.5 252.5ZM297 252.5L288.5 252.5L297 244.5ZM351.74 236.5L355.5 236.5L355.5 245.64ZM355.5 236.5L372.5 236.5L361.88 246.5L355.5 245.64ZM372.5 236.5L372.5 252.5L361.17 252.5L361.88 246.5ZM372.5 236.5L381.94 236.5L381 244.5ZM372.5 236.5L381 244.5L380.06 252.5L372.5 252.5ZM419.1 236.5L422.5 236.5L419.67 239.17ZM422.5 236.5L422.5 238.28L419.67 239.17ZM422.5 236.5L423.81 236.5L423.63 237.57ZM422.5 236.5L423.63 237.57L422.5 238.28ZM155.5 252.5L167.64 252.5L172.5 257.36L172.5 269.5ZM155.5 252.5L172.5 269.5L158.33 269.5L155.5 266.67ZM174.79 252.5L186.21 252.5L183.93 257.36L172.5 269.5L172.5 257.36ZM188.5 258.17L188.5 269.5L172.5 269.5L183.93 257.36ZM191.9 266.1L188.5 269.5L188.5 258.17ZM205.5 262.21L205.5 268.29L201.25 269.5L188.5 269.5L191.9 266.1ZM222.5 259.79L222.5 269.5L219.1 266.1ZM219.1 266.1L222.5 269.5L209.75 269.5L205.5 268.29L205.5 262.21ZM224.87 269.5L222.5 269.5L222.5 259.79ZM244.88 252.5L255.5 252.5L252.46 255.54ZM255.5 252.5L255.5 257.22L252.46 255.54ZM255.5 252.5L266.12 252.5L255.5 257.22ZM279.36 252.5L288.5 252.5L288.5 259.3ZM288.5 252.5L297 252.5L291.07 255.07ZM288.5 252.5L291.07 255.07L288.5 259.3ZM339.5 263.83L339.5 269.5L331 269.5ZM355.5 258.17L355.5 269.5L349.5 263.12ZM349.5 263.12L355.5 269.5L339.5 269.5L339.5 263.83ZM361.17 252.5L372.5 252.5L372.5 262.21L369.31 266.31L358.69 255.69ZM358.69 255.69L369.31 266.31L365.21 269.5L355.5 269.5L355.5 258.17ZM372.5 252.5L380.06 252.5L379.3 259.3ZM372.5 252.5L379.3 259.3L372.5 262.21ZM158.33 269.5L172.5 269.5L172.5 276.17ZM172.5 269.5L188.5 269.5L182.68 275.32L172.5 276.17ZM188.5 269.5L188.5 278.64L182.68 275.32ZM188.5 269.5L201.25 269.5L205.5 272.7L205.5 285.5ZM188.5 269.5L205.5 285.5L198.7 285.5L188.5 278.64ZM209.75 269.5L222.5 269.5L222.5 273.77L214.37 277.85L206.98 270.89ZM206.98 270.89L214.37 277.85L208.12 285.5L205.5 285.5L205.5 272.7ZM222.5 269.5L224.87 269.5L222.5 273.77ZM322.5 278.39L322.5 285.5L319.93 283.08ZM319.93 283.08L322.5 285.5L314.94 285.5ZM331 269.5L339.5 269.5L339.5 285.5L330.23 276.77ZM330.23 276.77L339.5 285.5L322.5 285.5L322.5 278.39ZM339.5 269.5L355.5 269.5L355.5 285.5ZM339.5 269.5L355.5 285.5L339.5 285.5ZM355.5 269.5L365.21 269.5L366.83 280.17ZM355.5 269.5L366.83 280.17L366.83 285.5L355.5 285.5ZM198.7 285.5L205.5 285.5L205.5 286.47ZM205.5 285.5L208.12 285.5L205.5 286.47ZM288.5 297.19L288.5 302.5L284.06 302.5ZM305.5 293.23L305.5 302.5L299.5 296.5ZM299.5 296.5L305.5 302.5L288.5 302.5L288.5 297.19ZM314.94 285.5L322.5 285.5L305.5 302.5L305.5 293.23ZM322.5 285.5L322.5 293.35L311.68 302.5L305.5 302.5ZM322.5 285.5L339.5 285.5L333.32 291.68L322.5 293.35ZM339.5 285.5L339.5 289.5L333.32 291.68ZM339.5 285.5L355.5 285.5L355.5 293.06L346.61 293.06ZM339.5 285.5L346.61 293.06L339.5 289.5ZM355.5 285.5L366.83 285.5L370.61 300.61ZM355.5 285.5L370.61 300.61L355.5 293.06ZM272.5 311L272.5 317.54L270.28 319.5L262.89 319.5ZM284.06 302.5L288.5 302.5L288.5 311L285.64 316.46L279.93 310.39ZM279.93 310.39L285.64 316.46L272.5 317.54L272.5 311ZM288.5 302.5L305.5 302.5L305.5 309.3L296.23 310.23ZM288.5 302.5L296.23 310.23L288.5 311ZM305.5 302.5L311.68 302.5L312.3 309.3ZM305.5 302.5L312.3 309.3L305.5 309.3ZM222.5 330.45L222.5 334.66L221.65 335.5L217.4 335.5ZM238.5 324.83L238.5 335.5L236.37 333.37ZM236.37 333.37L238.5 335.5L226.5 335.5L222.5 334.66L222.5 330.45ZM243.36 330.93L238.5 335.5L238.5 324.83ZM255.5 330.93L255.5 335.5L238.5 335.5L243.36 330.93ZM262.89 319.5L270.28 319.5L272.5 326.36L272.5 335.5L266.12 329.5ZM266.12 329.5L272.5 335.5L255.5 335.5L255.5 330.93ZM279.61 328.39L272.5 335.5L272.5 326.36ZM281.64 335.5L272.5 335.5L279.61 328.39ZM305.5 330.17L305.5 335.5L299.12 329.5ZM299.12 329.5L305.5 335.5L297 335.5ZM311.17 330.17L305.5 335.5L305.5 330.17ZM309.42 335.5L305.5 335.5L311.17 330.17ZM217.4 335.5L221.65 335.5L222.5 337.5L222.5 347.5ZM226.5 335.5L238.5 335.5L238.5 339.28L229.88 343.35L223.73 336.81ZM223.73 336.81L229.88 343.35L222.5 347.5L222.5 337.5ZM238.5 335.5L255.5 335.5L251.72 339.28L238.5 339.28ZM255.5 335.5L255.5 341.17L251.72 339.28ZM255.5 335.5L272.5 335.5L265.21 342.79L255.5 341.17ZM272.5 335.5L272.5 348.25L265.21 342.79ZM272.5 335.5L281.64 335.5L288.5 341.17L288.5 352.5ZM272.5 335.5L288.5 352.5L277.83 352.5L272.5 348.25ZM297 335.5L305.5 335.5L288.5 352.5L288.5 341.17ZM305.5 335.5L305.5 352.5L288.5 352.5ZM305.5 335.5L309.42 335.5L322.5 346.12L322.5 352.5ZM305.5 335.5L322.5 352.5L305.5 352.5ZM339.5 349.31L339.5 352.5L335.58 348.58ZM335.58 348.58L339.5 352.5L322.5 352.5L322.5 346.12ZM342.7 349.1L339.5 352.5L339.5 349.31ZM354.05 352.5L339.5 352.5L342.7 349.1Z"/>
<path fill="#99CC00" d="M372.5 51.61L372.5 53.5L370.71 51.71ZM370.71 51.71L372.5 53.5L369.1 53.5ZM374.56 51.44L372.5 53.5L372.5 51.61ZM378.17 53.5L372.5 53.5L374.56 51.44ZM405.5 47.67L405.5 53.5L400.82 48.52ZM400.82 48.52L405.5 53.5L395.9 53.5ZM422.5 39.02L422.5 45.31L416.09 47.09L411.17 42.17ZM411.17 42.17L416.09 47.09L409.5 53.5L405.5 53.5L405.5 47.67ZM427.73 36.5L439.5 36.5L438.29 37.71L422.5 45.31L422.5 39.02ZM439.5 36.5L439.5 37.31L438.29 37.71ZM439.5 36.5L439.77 36.5L439.5 37.31ZM355.5 69.5L355.5 69.5L355.5 69.5ZM355.5 69.5L355.5 69.5L355.5 69.5ZM369.1 53.5L372.5 53.5L372.5 65.14L370.07 67.21L361.98 59.6ZM361.98 59.6L370.07 67.21L368.58 69.5L355.5 69.5L355.5 69.5ZM372.5 53.5L378.17 53.5L389.5 57.77L389.5 68.43L387.61 67.72ZM372.5 53.5L387.61 67.72L372.5 65.14ZM395.9 53.5L405.5 53.5L392.7 66.3L389.5 68.43L389.5 57.77ZM405.5 53.5L405.5 66.3L392.7 66.3ZM405.5 53.5L409.5 53.5L405.5 66.3ZM472.5 66.64L472.5 69.5L468.8 69.5ZM355.5 69.5L355.5 69.5L355.5 69.5ZM355.5 69.5L355.5 69.5L355.5 69.5ZM355.5 69.5L368.58 69.5L369.67 72.33L360.22 81.78L355.5 69.5ZM372.5 73.42L372.5 86.5L372.5 86.5L360.22 81.78L369.67 72.33ZM383.83 86.5L372.5 86.5L372.5 73.42ZM468.8 69.5L472.5 69.5L472.5 69.5L469.46 83.46L466.43 80.43ZM466.43 80.43L469.46 83.46L466.83 86.5L461.17 86.5ZM339.5 103.5L339.5 103.5L339.5 103.5ZM339.5 103.5L339.5 103.5L339.5 103.5ZM339.5 103.5L339.5 103.5L339.5 103.5ZM339.5 103.5L339.5 103.5L339.5 103.5ZM372.5 86.5L372.5 86.5L372.5 86.5ZM372.5 86.5L383.83 86.5L384.19 91.81L373.56 102.44L372.5 86.5ZM385.86 103.5L373.71 103.5L373.56 102.44L384.19 91.81ZM461.17 86.5L466.83 86.5L465.21 96.21L460.36 91.36ZM460.36 91.36L465.21 96.21L463.06 103.5L456.76 103.5ZM339.5 103.5L339.5 103.5L339.5 112.91L334.09 114.41L326.36 107.14ZM326.36 107.14L334.09 114.41L335.25 119.5L329.18 119.5ZM339.5 103.5L339.5 103.5L348.88 110.12L343.36 115.64L339.5 112.91ZM355.5 116.3L355.5 119.5L347.5 119.5L343.36 115.64L348.88 110.12ZM368.25 107.5L355.5 119.5L355.5 116.3ZM372.5 107.5L372.5 119.5L355.5 119.5L368.25 107.5ZM373.71 103.5L385.86 103.5L384.4 108.3L372.5 119.5L372.5 107.5ZM389.5 115.5L389.5 119.5L372.5 119.5L384.4 108.3ZM391.79 117.21L389.5 119.5L389.5 115.5ZM405.5 117.21L405.5 119.5L389.5 119.5L391.79 117.21ZM406.44 118.61L405.5 119.5L405.5 117.21ZM422.5 111.74L422.5 116.59L415.7 119.5L405.5 119.5L406.44 118.61ZM430.74 119.5L425.59 119.5L422.5 116.59L422.5 111.74ZM455.5 106.7L455.5 119.5L450.38 119.5ZM456.76 103.5L463.06 103.5L462.79 110.36L456.71 104.64ZM456.71 104.64L462.79 110.36L457.39 119.5L455.5 119.5L455.5 106.7ZM288.5 131.86L288.5 136.5L285.68 133.5ZM285.68 133.5L288.5 136.5L283.7 136.5ZM291.33 133.67L288.5 136.5L288.5 131.86ZM291.5 136.5L288.5 136.5L291.33 133.67ZM329.18 119.5L335.25 119.5L334.74 124.26L327.94 131.06ZM339.5 124.91L339.5 132.64L327.94 131.06L334.74 124.26ZM347.5 119.5L355.5 119.5L355.5 136.5L355.5 136.5ZM355.5 136.5L355.5 136.5L344.83 136.5L339.5 132.64L339.5 124.91ZM355.5 119.5L372.5 119.5L355.5 136.5ZM372.5 119.5L372.5 136.5L355.5 136.5ZM372.5 119.5L389.5 119.5L389.5 125.17L385.72 132.72ZM372.5 119.5L385.72 132.72L385.72 136.5L372.5 136.5ZM389.5 119.5L405.5 119.5L400.17 125.17L389.5 125.17ZM405.5 119.5L405.5 131.27L401.5 136.5L391.5 136.5L400.17 125.17ZM405.5 119.5L415.7 119.5L422.5 127.35L422.5 136.5ZM405.5 119.5L422.5 136.5L411.68 136.5L405.5 131.27ZM425.59 119.5L430.74 119.5L425.05 133.95L422.5 136.5L422.5 127.35ZM428.88 136.5L422.5 136.5L425.05 133.95ZM450.38 119.5L455.5 119.5L455.5 123.75L452.59 133.41L447.74 128.26ZM447.74 128.26L452.59 133.41L450.93 136.5L443.31 136.5ZM455.5 119.5L457.39 119.5L457.29 121.29ZM455.5 119.5L457.29 121.29L455.5 123.75ZM238.5 142.9L238.5 152.5L229.77 143.77ZM229.77 143.77L238.5 152.5L228.9 152.5ZM255.5 146.35L255.5 152.5L246.06 143.61ZM246.06 143.61L255.5 152.5L238.5 152.5L238.5 142.9ZM262.58 145.83L255.5 152.5L255.5 146.35ZM259.75 152.5L255.5 152.5L262.58 145.83ZM283.7 136.5L288.5 136.5L288.5 142.5ZM288.5 136.5L291.5 136.5L305.5 151.43L305.5 152.5ZM288.5 136.5L305.5 152.5L302.67 152.5L288.5 142.5ZM307.39 150.72L305.5 152.5L305.5 151.43ZM322.5 149.3L322.5 152.5L305.5 152.5L307.39 150.72ZM327.36 147.93L322.5 152.5L322.5 149.3ZM331 152.5L322.5 152.5L327.36 147.93ZM344.83 136.5L355.5 136.5L342.17 149.83ZM355.5 136.5L355.5 146.5L342.17 149.83ZM355.5 136.5L372.5 136.5L372.5 143.36L367.64 147.93ZM355.5 136.5L367.64 147.93L355.5 146.5ZM372.5 136.5L385.72 136.5L389.5 147.17L389.5 152.5ZM372.5 136.5L389.5 152.5L377.73 152.5L372.5 143.36ZM391.5 136.5L401.5 136.5L405.5 140.77L405.5 151.43ZM397.5 152.5L389.5 152.5L389.5 147.17ZM411.68 136.5L422.5 136.5L409.75 148.5L405.5 151.43L405.5 140.77ZM422.5 136.5L422.5 146.1L409.75 148.5ZM422.5 136.5L428.88 136.5L422.5 146.1ZM439.5 144.5L439.5 152.5L427.36 152.5ZM443.31 136.5L450.93 136.5L449.1 146.1L442.7 139.7ZM442.7 139.7L449.1 146.1L444.83 152.5L439.5 152.5L439.5 144.5ZM188.5 164.97L188.5 169.5L185.72 166.54ZM185.72 166.54L188.5 169.5L184.74 169.5ZM196.06 161.94L188.5 169.5L188.5 164.97ZM196.06 169.5L188.5 169.5L196.06 161.94ZM228.9 152.5L238.5 152.5L238.5 163.83ZM238.5 152.5L255.5 152.5L244.88 163.12L238.5 163.83ZM255.5 152.5L255.5 156.55L244.88 163.12ZM255.5 152.5L259.75 152.5L263.23 160.23ZM255.5 152.5L263.23 160.23L255.5 156.55ZM302.67 152.5L305.5 152.5L305.5 169.5L299.12 163.12ZM299.12 163.12L305.5 169.5L299.12 169.5ZM305.5 152.5L322.5 152.5L322.5 163.83L317.27 164.27ZM305.5 152.5L317.27 164.27L316.32 169.5L305.5 169.5ZM322.5 152.5L331 152.5L339.5 155.33L339.5 169.5ZM322.5 152.5L339.5 169.5L339.5 169.5L322.5 163.83ZM349.5 158.88L339.5 169.5L339.5 155.33ZM354.05 169.5L339.5 169.5L349.5 158.88ZM372.5 163.83L372.5 169.5L368.25 165.25ZM368.25 165.25L372.5 169.5L361.17 169.5ZM377.73 152.5L389.5 152.5L372.5 169.5L372.5 163.83ZM389.5 152.5L389.5 169.5L372.5 169.5ZM389.5 152.5L397.5 152.5L403.5 154.62L389.5 169.5ZM405.5 154.62L405.5 169.5L389.5 169.5L403.5 154.62ZM422.5 156.75L422.5 169.5L407.93 154.93ZM407.93 154.93L422.5 169.5L405.5 169.5L405.5 154.62ZM427.36 152.5L439.5 152.5L439.5 169.5L425.33 155.33ZM425.33 155.33L439.5 169.5L422.5 169.5L422.5 156.75ZM439.5 152.5L444.83 152.5L443.71 156.97ZM439.5 152.5L443.71 156.97L439.5 169.5L439.5 169.5ZM184.74 169.5L188.5 169.5L182.68 175.68ZM188.5 169.5L188.5 180.83L182.68 175.68ZM188.5 169.5L196.06 169.5L195.3 176.3ZM188.5 169.5L195.3 176.3L188.5 180.83ZM238.5 178L238.5 186.5L235.5 183.31ZM235.5 183.31L238.5 186.5L235.5 186.5ZM243.6 186.5L238.5 186.5L238.5 178ZM299.12 169.5L305.5 169.5L299.12 175.88ZM305.5 169.5L305.5 176.79L299.12 175.88ZM305.5 169.5L316.32 169.5L318.72 173.28L309.28 182.72L305.5 176.79ZM322.5 173.28L322.5 182.72L309.28 182.72L318.72 173.28ZM339.5 169.5L339.5 169.5L339.5 186.5L328.17 175.17ZM328.17 175.17L339.5 186.5L333.83 186.5L322.5 182.72L322.5 173.28ZM339.5 169.5L354.05 169.5L355.5 173.75L355.5 186.5ZM339.5 169.5L355.5 186.5L339.5 186.5ZM361.17 169.5L372.5 169.5L372.5 184.61L371.08 185.08L356.92 170.92ZM356.92 170.92L371.08 185.08L370.38 186.5L355.5 186.5L355.5 173.75ZM372.5 169.5L389.5 169.5L374.62 184.38L372.5 184.61ZM389.5 169.5L389.5 182.25L388.08 186.5L373.92 186.5L374.62 184.38ZM389.5 169.5L405.5 169.5L405.5 180.32L399.68 180.32ZM389.5 169.5L399.68 180.32L401.23 186.5L390.57 186.5L389.5 182.25ZM405.5 169.5L422.5 169.5L412.3 179.7L405.5 180.32ZM422.5 169.5L422.5 186.5L411.17 186.5L412.3 179.7ZM422.5 169.5L439.5 169.5L422.5 186.5ZM439.5 169.5L439.5 169.5L424.62 186.5L422.5 186.5ZM439.5 169.5L439.5 169.5L439.5 169.5ZM439.5 169.5L439.5 169.5L439.5 169.5ZM222.5 199.5L222.5 202.5L216.83 197.17ZM216.83 197.17L222.5 202.5L219.31 202.5ZM235.5 186.5L238.5 186.5L222.5 202.5L222.5 199.5ZM238.5 186.5L238.5 190.11L226.11 202.5L222.5 202.5ZM238.5 186.5L243.6 186.5L255.5 197.7L255.5 202.5ZM238.5 186.5L255.5 202.5L251.67 202.5L238.5 190.11ZM272.5 198.23L272.5 202.5L266.32 196.68ZM266.32 196.68L272.5 202.5L255.5 202.5L255.5 197.7ZM279.61 195.39L272.5 202.5L272.5 198.23ZM288.5 196.5L288.5 202.5L272.5 202.5L279.61 195.39ZM295.79 195.64L288.5 202.5L288.5 196.5ZM305.5 195.64L305.5 202.5L288.5 202.5L295.79 195.64ZM312.79 195.64L305.5 202.5L305.5 195.64ZM322.5 202.5L322.5 202.5L305.5 202.5L312.79 195.64ZM333.83 186.5L339.5 186.5L339.5 199.3L337.38 200.5L326.75 190.5ZM326.75 190.5L337.38 200.5L336.67 202.5L322.5 202.5L322.5 202.5ZM339.5 186.5L355.5 186.5L343.06 198.94L339.5 199.3ZM355.5 186.5L355.5 202.5L343.06 202.5L343.06 198.94ZM355.5 186.5L370.38 186.5L370.38 188.5L355.5 202.5ZM372.5 188.5L372.5 202.5L355.5 202.5L370.38 188.5ZM373.92 186.5L388.08 186.5L386.88 200.04L373.81 187.73ZM373.81 187.73L386.88 200.04L382.7 202.5L372.5 202.5L372.5 188.5ZM390.57 186.5L401.23 186.5L401.5 190.5L391.5 200.5ZM405.5 192.32L405.5 202.5L395.9 202.5L391.5 200.5L401.5 190.5ZM411.17 186.5L422.5 186.5L422.5 202.5L411.41 192.07ZM411.41 192.07L422.5 202.5L405.5 202.5L405.5 192.32ZM422.5 186.5L424.62 186.5L425.08 200.08L422.5 202.5ZM424.93 202.5L422.5 202.5L425.08 200.08ZM219.31 202.5L222.5 202.5L215.21 209.79ZM222.5 202.5L222.5 219.5L215.21 219.5L215.21 209.79ZM222.5 202.5L226.11 202.5L226.11 215.67L222.5 219.5ZM225.7 219.5L222.5 219.5L226.11 215.67ZM251.67 202.5L255.5 202.5L252.1 205.9ZM255.5 202.5L255.5 208.88L252.1 205.9ZM255.5 202.5L272.5 202.5L264.94 210.06L255.5 208.88ZM272.5 202.5L272.5 207.03L264.94 210.06ZM272.5 202.5L288.5 202.5L288.5 219.5ZM272.5 202.5L288.5 219.5L281.09 219.5L272.5 207.03ZM288.5 202.5L305.5 202.5L288.5 219.5ZM305.5 202.5L305.5 219.5L288.5 219.5ZM305.5 202.5L322.5 202.5L322.5 219.5ZM305.5 202.5L322.5 219.5L305.5 219.5ZM322.5 202.5L336.67 202.5L332.7 209.3L322.5 219.5ZM339.5 204.62L339.5 215.25L333.32 219.5L322.5 219.5L332.7 209.3ZM343.06 202.5L355.5 202.5L355.5 219.5L343.06 206.28ZM343.06 206.28L355.5 219.5L348.64 219.5L339.5 215.25L339.5 204.62ZM355.5 202.5L372.5 202.5L372.5 219.5ZM355.5 202.5L372.5 219.5L355.5 219.5ZM372.5 202.5L382.7 202.5L389.5 204.93L389.5 217.07L385.72 215.72ZM372.5 202.5L385.72 215.72L385.72 219.5L372.5 219.5ZM395.9 202.5L405.5 202.5L393.06 215.72L389.5 217.07L389.5 204.93ZM405.5 202.5L405.5 208.88L400.79 219.5L391.38 219.5L393.06 215.72ZM405.5 202.5L422.5 202.5L416.83 208.17L405.5 208.88ZM422.5 202.5L422.5 207.5L416.83 208.17ZM422.5 202.5L424.93 202.5L424.39 204.39ZM422.5 202.5L424.39 204.39L422.5 207.5ZM205.5 227.06L205.5 236.5L191.33 236.5ZM215.21 219.5L222.5 219.5L205.5 236.5L205.5 227.06ZM222.5 219.5L222.5 236.5L205.5 236.5ZM222.5 219.5L225.7 219.5L229.36 226.79ZM222.5 219.5L229.36 226.79L229.36 236.5L222.5 236.5ZM255.5 231.64L255.5 236.5L249.83 236.5ZM272.5 232.86L272.5 236.5L266.12 230.12ZM266.12 230.12L272.5 236.5L255.5 236.5L255.5 231.64ZM281.09 219.5L288.5 219.5L272.5 236.5L272.5 232.86ZM288.5 219.5L288.5 230.64L278.5 236.5L272.5 236.5ZM288.5 219.5L305.5 219.5L305.5 236.5ZM288.5 219.5L305.5 236.5L297.94 236.5L288.5 230.64ZM305.5 219.5L322.5 219.5L322.5 222.18L310.67 224.67ZM305.5 219.5L310.67 224.67L310.14 236.5L305.5 236.5ZM322.5 219.5L333.32 219.5L337.23 221.77L331.57 227.43L322.5 222.18ZM339.5 223.5L339.5 233.5L331.57 227.43L337.23 221.77ZM348.64 219.5L355.5 219.5L344.3 231.4L339.5 233.5L339.5 223.5ZM355.5 219.5L355.5 226.79L351.74 236.5L342.32 236.5L344.3 231.4ZM355.5 219.5L372.5 219.5L365.21 226.79L355.5 226.79ZM372.5 219.5L372.5 225.88L365.21 226.79ZM372.5 219.5L385.72 219.5L387.5 221.5L377.5 231.5L372.5 225.88ZM389.5 220.81L389.5 227.35L377.5 231.5L387.5 221.5ZM391.38 219.5L400.79 219.5L396.88 227.35L390.73 220.81ZM390.73 220.81L396.88 227.35L389.5 227.35L389.5 220.81ZM188.5 241.83L188.5 252.5L184.5 248.5ZM184.5 248.5L188.5 252.5L186.21 252.5ZM191.33 236.5L205.5 236.5L205.5 243.77L199.5 246.85L189.5 237.44ZM189.5 237.44L199.5 246.85L198.21 252.5L188.5 252.5L188.5 241.83ZM205.5 236.5L222.5 236.5L213.35 245.12L205.5 243.77ZM222.5 236.5L222.5 252.5L213.35 252.5L213.35 245.12ZM222.5 236.5L229.36 236.5L238.5 245.64L238.5 252.5ZM222.5 236.5L238.5 252.5L222.5 252.5ZM249.83 236.5L255.5 236.5L238.5 252.5L238.5 245.64ZM255.5 236.5L255.5 241.07L244.88 252.5L238.5 252.5ZM255.5 236.5L272.5 236.5L272.5 252.5ZM255.5 236.5L272.5 252.5L266.12 252.5L255.5 241.07ZM272.5 236.5L278.5 236.5L279.36 243.36ZM272.5 236.5L279.36 243.36L279.36 252.5L272.5 252.5ZM297.94 236.5L305.5 236.5L297 244.5ZM305.5 236.5L305.5 252.5L297 252.5L297 244.5ZM305.5 236.5L310.14 236.5L310.14 248.14L305.5 252.5ZM314.77 252.5L305.5 252.5L310.14 248.14ZM342.32 236.5L351.74 236.5L355.5 245.64L355.5 252.5L344.3 241.3ZM344.3 241.3L355.5 252.5L339.5 252.5L339.5 252.5ZM361.88 246.5L355.5 252.5L355.5 245.64ZM361.17 252.5L355.5 252.5L361.88 246.5ZM158.33 269.5L155.5 269.5L155.5 266.67ZM186.21 252.5L188.5 252.5L183.93 257.36ZM188.5 252.5L188.5 258.17L183.93 257.36ZM188.5 252.5L198.21 252.5L200.4 257.6L191.9 266.1L188.5 258.17ZM205.5 256.14L205.5 262.21L191.9 266.1L200.4 257.6ZM213.35 252.5L222.5 252.5L222.5 259.79L219.1 266.1L210.6 257.6ZM210.6 257.6L219.1 266.1L205.5 262.21L205.5 256.14ZM222.5 252.5L238.5 252.5L238.5 258.45L228.1 258.45ZM222.5 252.5L228.1 258.45L230.8 269.5L224.87 269.5L222.5 259.79ZM238.5 252.5L244.88 252.5L252.46 255.54L246.39 261.61L238.5 258.45ZM255.5 257.22L255.5 266.67L246.39 261.61L252.46 255.54ZM266.12 252.5L272.5 252.5L260.6 264.4L255.5 266.67L255.5 257.22ZM272.5 252.5L272.5 269.5L272.5 269.5L260.6 264.4ZM272.5 252.5L279.36 252.5L288.5 259.3L288.5 269.5ZM272.5 252.5L288.5 269.5L272.5 269.5ZM297 252.5L305.5 252.5L305.5 258.01L297.48 261.48L291.07 255.07ZM291.07 255.07L297.48 261.48L292.62 269.5L288.5 269.5L288.5 259.3ZM305.5 252.5L314.77 252.5L305.5 258.01ZM322.5 261L322.5 269.5L317.64 269.5ZM339.5 252.5L339.5 252.5L322.5 269.5L322.5 261ZM339.5 252.5L339.5 263.83L331 269.5L322.5 269.5ZM339.5 252.5L355.5 252.5L355.5 258.17L349.5 263.12ZM339.5 252.5L349.5 263.12L339.5 263.83ZM355.5 252.5L361.17 252.5L358.69 255.69ZM355.5 252.5L358.69 255.69L355.5 258.17ZM155.5 269.5L158.33 269.5L172.5 276.17L172.5 285.5ZM155.5 269.5L172.5 285.5L162.3 285.5L155.5 282.59ZM182.68 275.32L172.5 285.5L172.5 276.17ZM188.5 278.64L188.5 285.5L172.5 285.5L182.68 275.32ZM198.7 285.5L188.5 285.5L188.5 278.64ZM222.5 273.77L222.5 284.43L221.76 284.8L214.37 277.85ZM214.37 277.85L221.76 284.8L221.19 285.5L208.12 285.5ZM224.87 269.5L230.8 269.5L222.5 284.43L222.5 273.77ZM238.5 280.45L238.5 285.5L224.79 285.5ZM245.3 285.5L238.5 285.5L238.5 280.45ZM272.5 269.5L288.5 269.5L284.74 273.26L272.5 269.5ZM288.5 269.5L288.5 282.3L284.74 273.26ZM288.5 269.5L292.62 269.5L288.5 282.3ZM305.5 280.93L305.5 285.5L291.33 285.5ZM317.64 269.5L322.5 269.5L322.5 278.39L319.93 283.08L313.52 277.05ZM313.52 277.05L319.93 283.08L314.94 285.5L305.5 285.5L305.5 280.93ZM322.5 269.5L331 269.5L330.23 276.77ZM322.5 269.5L330.23 276.77L322.5 278.39ZM162.3 285.5L172.5 285.5L172.5 287.54ZM172.5 285.5L188.5 285.5L188.5 289.91L174.59 287.72ZM172.5 285.5L174.59 287.72L172.5 287.54ZM188.5 285.5L198.7 285.5L205.5 286.47L205.5 291.33L192.47 289.47ZM188.5 285.5L192.47 289.47L188.5 289.91ZM208.12 285.5L221.19 285.5L205.5 291.33L205.5 286.47ZM224.79 285.5L238.5 285.5L227.83 296.83ZM238.5 285.5L238.5 302.5L227.83 302.5L227.83 296.83ZM238.5 285.5L245.3 285.5L243.87 290.87ZM238.5 285.5L243.87 290.87L243.87 302.5L238.5 302.5ZM288.5 286.56L288.5 297.19L284.06 302.5L275.17 302.5ZM291.33 285.5L305.5 285.5L305.5 293.23L299.5 296.5L289.5 286.5ZM289.5 286.5L299.5 296.5L288.5 297.19L288.5 286.56ZM305.5 285.5L314.94 285.5L305.5 293.23ZM227.83 302.5L238.5 302.5L234.14 307.14ZM238.5 302.5L238.5 319.5L233.17 319.5L234.14 307.14ZM238.5 302.5L243.87 302.5L244.98 313.02L238.5 319.5ZM255.5 319.5L255.5 319.5L238.5 319.5L244.98 313.02ZM272.5 304.46L272.5 311L262.89 319.5L255.5 319.5L255.5 319.5ZM275.17 302.5L284.06 302.5L279.93 310.39L274.21 304.32ZM274.21 304.32L279.93 310.39L272.5 311L272.5 304.46ZM222.5 326.24L222.5 330.45L217.4 335.5L213.15 335.5ZM233.17 319.5L238.5 319.5L238.5 324.83L236.37 333.37L231.03 328.03ZM231.03 328.03L236.37 333.37L222.5 330.45L222.5 326.24ZM238.5 319.5L255.5 319.5L243.36 330.93L238.5 324.83ZM255.5 319.5L255.5 330.93L243.36 330.93ZM255.5 319.5L262.89 319.5L266.12 329.5ZM255.5 319.5L266.12 329.5L255.5 330.93ZM172.5 352.09L172.5 352.5L172.26 352.26ZM172.26 352.26L172.5 352.5L155.5 352.5L155.5 352.5ZM188.5 349.67L188.5 352.5L186.41 350.28ZM186.41 350.28L188.5 352.5L172.5 352.5L172.5 352.09ZM199.83 352.5L188.5 352.5L188.5 349.67ZM213.15 335.5L217.4 335.5L222.5 347.5L222.5 352.5L218.8 348.8ZM218.8 348.8L222.5 352.5L211.88 352.5ZM238.5 339.28L238.5 348.72L236.04 349.88L229.88 343.35ZM229.88 343.35L236.04 349.88L231.39 352.5L222.5 352.5L222.5 347.5ZM251.72 339.28L242.28 348.72L238.5 348.72L238.5 339.28ZM255.5 341.17L255.5 352.5L249.83 352.5L242.28 348.72L251.72 339.28ZM265.21 342.79L255.5 352.5L255.5 341.17ZM272.5 348.25L272.5 352.5L255.5 352.5L265.21 342.79ZM277.83 352.5L272.5 352.5L272.5 348.25Z"/>
<path fill="#FFFF00" d="M422.5 45.31L422.5 51.61L421.02 52.02L416.09 47.09ZM416.09 47.09L421.02 52.02L419.5 53.5L409.5 53.5ZM438.29 37.71L426.14 49.86L422.5 51.61L422.5 45.31ZM439.5 37.31L439.5 45.4L426.14 49.86L438.29 37.71ZM439.77 36.5L442.48 36.5L439.5 45.4L439.5 37.31ZM372.5 65.14L372.5 69.5L370.07 67.21ZM370.07 67.21L372.5 69.5L368.58 69.5ZM389.5 68.43L389.5 69.5L387.61 67.72ZM387.61 67.72L389.5 69.5L372.5 69.5L372.5 65.14ZM392.7 66.3L389.5 69.5L389.5 68.43ZM405.5 66.3L405.5 69.5L389.5 69.5L392.7 66.3ZM409.5 53.5L419.5 53.5L418.25 57.5L405.5 69.5L405.5 66.3ZM416.43 69.5L405.5 69.5L418.25 57.5ZM472.5 63.79L472.5 66.64L468.8 69.5L465.11 69.5ZM368.58 69.5L372.5 69.5L369.67 72.33ZM372.5 69.5L372.5 73.42L369.67 72.33ZM372.5 69.5L389.5 69.5L389.5 86.5ZM372.5 69.5L389.5 86.5L383.83 86.5L372.5 73.42ZM389.5 69.5L405.5 69.5L405.5 86.5ZM389.5 69.5L405.5 86.5L389.5 86.5ZM405.5 69.5L416.43 69.5L414 78L405.5 86.5ZM414 86.5L405.5 86.5L414 78ZM465.11 69.5L468.8 69.5L466.43 80.43L463.39 77.39ZM463.39 77.39L466.43 80.43L461.17 86.5L455.5 86.5L455.5 86.5ZM383.83 86.5L389.5 86.5L384.19 91.81ZM389.5 86.5L389.5 103.5L385.86 103.5L384.19 91.81ZM389.5 86.5L405.5 86.5L405.5 103.5ZM389.5 86.5L405.5 103.5L389.5 103.5ZM405.5 86.5L414 86.5L412.58 93.58ZM405.5 86.5L412.58 93.58L411.68 103.5L405.5 103.5ZM455.5 86.5L455.5 103.5L450.17 103.5L455.5 86.5ZM455.5 86.5L461.17 86.5L460.36 91.36ZM455.5 86.5L460.36 91.36L456.76 103.5L455.5 103.5ZM339.5 112.91L339.5 119.5L334.09 114.41ZM334.09 114.41L339.5 119.5L335.25 119.5ZM343.36 115.64L339.5 119.5L339.5 112.91ZM347.5 119.5L339.5 119.5L343.36 115.64ZM385.86 103.5L389.5 103.5L384.4 108.3ZM389.5 103.5L389.5 115.5L384.4 108.3ZM389.5 103.5L405.5 103.5L391.79 117.21L389.5 115.5ZM405.5 103.5L405.5 117.21L391.79 117.21ZM405.5 103.5L411.68 103.5L415.89 109.72L406.44 118.61L405.5 117.21ZM422.5 106.89L422.5 111.74L406.44 118.61L415.89 109.72ZM435.89 119.5L430.74 119.5L422.5 111.74L422.5 106.89ZM450.17 103.5L455.5 103.5L446.97 112.03ZM455.5 103.5L455.5 106.7L450.38 119.5L443.98 119.5L446.97 112.03ZM455.5 103.5L456.76 103.5L456.71 104.64ZM455.5 103.5L456.71 104.64L455.5 106.7ZM335.25 119.5L339.5 119.5L334.74 124.26ZM339.5 119.5L339.5 124.91L334.74 124.26ZM339.5 119.5L347.5 119.5L355.5 136.5L355.5 136.5ZM339.5 119.5L355.5 136.5L355.5 136.5L339.5 124.91ZM355.5 136.5L355.5 136.5L355.5 136.5ZM355.5 136.5L355.5 136.5L355.5 136.5ZM389.5 125.17L389.5 136.5L385.72 132.72ZM385.72 132.72L389.5 136.5L385.72 136.5ZM400.17 125.17L389.5 136.5L389.5 125.17ZM391.5 136.5L389.5 136.5L400.17 125.17ZM430.74 119.5L435.89 119.5L433.55 125.45L425.05 133.95ZM439.5 129.42L439.5 136.5L428.88 136.5L425.05 133.95L433.55 125.45ZM443.98 119.5L450.38 119.5L447.74 128.26L442.89 123.11ZM442.89 123.11L447.74 128.26L443.31 136.5L439.5 136.5L439.5 129.42ZM355.5 136.5L355.5 136.5L355.5 136.5ZM355.5 136.5L355.5 136.5L355.5 136.5ZM355.5 136.5L355.5 136.5L355.5 136.5ZM355.5 136.5L355.5 136.5L355.5 136.5ZM385.72 136.5L389.5 136.5L389.5 147.17ZM389.5 136.5L391.5 136.5L405.5 151.43L405.5 152.5ZM389.5 136.5L405.5 152.5L397.5 152.5L389.5 147.17ZM409.75 148.5L405.5 152.5L405.5 151.43ZM422.5 146.1L422.5 152.5L405.5 152.5L409.75 148.5ZM428.88 136.5L439.5 136.5L422.5 152.5L422.5 146.1ZM439.5 136.5L439.5 144.5L427.36 152.5L422.5 152.5ZM439.5 136.5L443.31 136.5L442.7 139.7ZM439.5 136.5L442.7 139.7L439.5 144.5ZM322.5 163.83L322.5 169.5L317.27 164.27ZM317.27 164.27L322.5 169.5L316.32 169.5ZM339.5 169.5L339.5 169.5L339.5 169.5ZM339.5 169.5L339.5 169.5L322.5 169.5L322.5 163.83ZM339.5 169.5L339.5 169.5L339.5 169.5ZM339.5 169.5L339.5 169.5L339.5 169.5ZM397.5 152.5L405.5 152.5L403.5 154.62ZM405.5 152.5L405.5 154.62L403.5 154.62ZM405.5 152.5L422.5 152.5L422.5 156.75L407.93 154.93ZM405.5 152.5L407.93 154.93L405.5 154.62ZM422.5 152.5L427.36 152.5L425.33 155.33ZM422.5 152.5L425.33 155.33L422.5 156.75ZM316.32 169.5L322.5 169.5L318.72 173.28ZM322.5 169.5L322.5 173.28L318.72 173.28ZM322.5 169.5L339.5 169.5L339.5 169.5L328.17 175.17ZM322.5 169.5L328.17 175.17L322.5 173.28ZM339.5 169.5L339.5 169.5L339.5 169.5ZM339.5 169.5L339.5 169.5L339.5 169.5ZM372.5 184.61L372.5 186.5L371.08 185.08ZM371.08 185.08L372.5 186.5L370.38 186.5ZM374.62 184.38L372.5 186.5L372.5 184.61ZM373.92 186.5L372.5 186.5L374.62 184.38ZM405.5 180.32L405.5 186.5L399.68 180.32ZM399.68 180.32L405.5 186.5L401.23 186.5ZM412.3 179.7L405.5 186.5L405.5 180.32ZM411.17 186.5L405.5 186.5L412.3 179.7ZM339.5 199.3L339.5 202.5L337.38 200.5ZM337.38 200.5L339.5 202.5L336.67 202.5ZM343.06 198.94L339.5 202.5L339.5 199.3ZM343.06 202.5L339.5 202.5L343.06 198.94ZM370.38 186.5L372.5 186.5L370.38 188.5ZM372.5 186.5L372.5 188.5L370.38 188.5ZM372.5 186.5L373.92 186.5L373.81 187.73ZM372.5 186.5L373.81 187.73L372.5 188.5ZM401.23 186.5L405.5 186.5L401.5 190.5ZM405.5 186.5L405.5 192.32L401.5 190.5ZM405.5 186.5L411.17 186.5L411.41 192.07ZM405.5 186.5L411.41 192.07L405.5 192.32ZM336.67 202.5L339.5 202.5L332.7 209.3ZM339.5 202.5L339.5 204.62L332.7 209.3ZM339.5 202.5L343.06 202.5L343.06 206.28ZM339.5 202.5L343.06 206.28L339.5 204.62ZM389.5 217.07L389.5 219.5L385.72 215.72ZM385.72 215.72L389.5 219.5L385.72 219.5ZM393.06 215.72L389.5 219.5L389.5 217.07ZM391.38 219.5L389.5 219.5L393.06 215.72ZM322.5 222.18L322.5 231.13L318.07 232.07L310.67 224.67ZM310.67 224.67L318.07 232.07L317.86 236.5L310.14 236.5ZM331.57 227.43L325.9 233.1L322.5 231.13L322.5 222.18ZM339.5 233.5L339.5 236.5L330.35 236.5L325.9 233.1L331.57 227.43ZM344.3 231.4L339.5 236.5L339.5 233.5ZM342.32 236.5L339.5 236.5L344.3 231.4ZM385.72 219.5L389.5 219.5L387.5 221.5ZM389.5 219.5L389.5 220.81L387.5 221.5ZM389.5 219.5L391.38 219.5L390.73 220.81ZM389.5 219.5L390.73 220.81L389.5 220.81ZM205.5 243.77L205.5 252.5L199.5 246.85ZM199.5 246.85L205.5 252.5L198.21 252.5ZM213.35 245.12L205.5 252.5L205.5 243.77ZM213.35 252.5L205.5 252.5L213.35 245.12ZM310.14 236.5L317.86 236.5L317.86 240.86L310.14 248.14ZM322.5 245.23L322.5 252.5L314.77 252.5L310.14 248.14L317.86 240.86ZM330.35 236.5L339.5 236.5L339.5 252.5L328.88 242.5ZM328.88 242.5L339.5 252.5L322.5 252.5L322.5 245.23ZM339.5 236.5L342.32 236.5L344.3 241.3ZM339.5 236.5L344.3 241.3L339.5 252.5L339.5 252.5ZM198.21 252.5L205.5 252.5L200.4 257.6ZM205.5 252.5L205.5 256.14L200.4 257.6ZM205.5 252.5L213.35 252.5L210.6 257.6ZM205.5 252.5L210.6 257.6L205.5 256.14ZM238.5 258.45L238.5 266.95L236.1 266.95L228.1 258.45ZM228.1 258.45L236.1 266.95L236.72 269.5L230.8 269.5ZM246.39 261.61L240.32 267.68L238.5 266.95L238.5 258.45ZM255.5 266.67L255.5 269.5L243.6 269.5L240.32 267.68L246.39 261.61ZM260.6 264.4L255.5 269.5L255.5 266.67ZM272.5 269.5L272.5 269.5L255.5 269.5L260.6 264.4ZM272.5 269.5L272.5 269.5L272.5 269.5ZM305.5 258.01L305.5 267.2L303.9 267.9L297.48 261.48ZM297.48 261.48L303.9 267.9L302.92 269.5L292.62 269.5ZM314.77 252.5L322.5 252.5L311.17 263.83L305.5 267.2L305.5 258.01ZM322.5 252.5L322.5 261L317.64 269.5L307.93 269.5L311.17 263.83ZM322.5 252.5L339.5 252.5L339.5 252.5L322.5 261ZM339.5 252.5L339.5 252.5L339.5 252.5ZM339.5 252.5L339.5 252.5L339.5 252.5ZM339.5 252.5L339.5 252.5L339.5 252.5ZM162.3 285.5L155.5 285.5L155.5 282.59ZM222.5 284.43L222.5 285.5L221.76 284.8ZM221.76 284.8L222.5 285.5L221.19 285.5ZM230.8 269.5L236.72 269.5L234.5 273.5L222.5 285.5L222.5 284.43ZM238.5 272.03L238.5 280.45L224.79 285.5L222.5 285.5L234.5 273.5ZM243.6 269.5L255.5 269.5L255.5 285.5L251.25 281.5ZM251.25 281.5L255.5 285.5L245.3 285.5L238.5 280.45L238.5 272.03ZM255.5 269.5L272.5 269.5L272.5 281.81L267.4 280.7ZM255.5 269.5L267.4 280.7L259.75 285.5L255.5 285.5ZM272.5 269.5L272.5 269.5L284.74 273.26L275.32 282.68L272.5 281.81ZM288.5 282.3L288.5 285.5L276.5 285.5L275.32 282.68L284.74 273.26ZM292.62 269.5L302.92 269.5L301.8 272.98L288.5 285.5L288.5 282.3ZM305.5 271.79L305.5 280.93L291.33 285.5L288.5 285.5L301.8 272.98ZM307.93 269.5L317.64 269.5L313.52 277.05L307.1 271.01ZM307.1 271.01L313.52 277.05L305.5 280.93L305.5 271.79ZM155.5 285.5L162.3 285.5L172.5 287.54L172.5 294.34L162.3 292.3ZM155.5 285.5L162.3 292.3L155.5 297.86ZM188.5 289.91L188.5 296.2L181.54 295.11L174.59 287.72ZM174.59 287.72L181.54 295.11L172.5 294.34L172.5 287.54ZM205.5 291.33L205.5 296.19L198.13 295.13L192.47 289.47ZM192.47 289.47L198.13 295.13L188.5 296.2L188.5 289.91ZM221.19 285.5L222.5 285.5L215.55 292.45L205.5 296.19L205.5 291.33ZM222.5 285.5L222.5 302.5L216.55 302.5L215.55 292.45ZM222.5 285.5L224.79 285.5L227.83 296.83L222.5 302.5ZM227.83 302.5L222.5 302.5L227.83 296.83ZM245.3 285.5L255.5 285.5L255.5 289.75L252.82 299.82L243.87 290.87ZM243.87 290.87L252.82 299.82L252.82 302.5L243.87 302.5ZM255.5 285.5L259.75 285.5L255.5 289.75ZM272.5 290.6L272.5 302.5L260.6 302.5ZM276.5 285.5L288.5 285.5L272.5 302.5L272.5 290.6ZM288.5 285.5L288.5 286.56L275.17 302.5L272.5 302.5ZM288.5 285.5L291.33 285.5L289.5 286.5ZM288.5 285.5L289.5 286.5L288.5 286.56ZM205.5 313.02L205.5 319.5L199.83 319.5ZM216.55 302.5L222.5 302.5L222.5 311.65ZM215.21 319.5L205.5 319.5L205.5 313.02ZM222.5 302.5L227.83 302.5L234.14 307.14L226.86 314.86L222.5 311.65ZM233.17 319.5L226.5 319.5L226.86 314.86L234.14 307.14ZM243.87 302.5L252.82 302.5L253.07 304.93L244.98 313.02ZM255.5 306.42L255.5 319.5L255.5 319.5L244.98 313.02L253.07 304.93ZM260.6 302.5L272.5 302.5L255.5 319.5L255.5 306.42ZM272.5 302.5L272.5 304.46L255.5 319.5L255.5 319.5ZM272.5 302.5L275.17 302.5L274.21 304.32ZM272.5 302.5L274.21 304.32L272.5 304.46ZM199.83 319.5L205.5 319.5L205.5 327.5ZM205.5 319.5L215.21 319.5L205.5 327.5ZM222.5 322.03L222.5 326.24L213.15 335.5L208.9 335.5ZM226.5 319.5L233.17 319.5L231.03 328.03L225.7 322.7ZM225.7 322.7L231.03 328.03L222.5 326.24L222.5 322.03ZM255.5 319.5L255.5 319.5L255.5 319.5ZM255.5 319.5L255.5 319.5L255.5 319.5ZM255.5 319.5L255.5 319.5L255.5 319.5ZM255.5 319.5L255.5 319.5L255.5 319.5ZM172.5 347.94L172.5 352.09L172.26 352.26L169.85 349.85ZM169.85 349.85L172.26 352.26L155.5 352.5L155.5 352.5L155.5 350.05ZM188.5 344.94L188.5 349.67L186.41 350.28L182.93 346.59ZM182.93 346.59L186.41 350.28L172.5 352.09L172.5 347.94ZM205.5 344.57L205.5 352.5L201.09 348.09ZM201.09 348.09L205.5 352.5L199.83 352.5L188.5 349.67L188.5 344.94ZM208.9 335.5L213.15 335.5L218.8 348.8L211.41 341.41ZM211.41 341.41L218.8 348.8L211.88 352.5L205.5 352.5L205.5 344.57ZM238.5 348.72L238.5 352.5L236.04 349.88ZM236.04 349.88L238.5 352.5L231.39 352.5ZM242.28 348.72L238.5 352.5L238.5 348.72ZM249.83 352.5L238.5 352.5L242.28 348.72Z"/>
<path fill="#FFCC00" d="M422.5 51.61L422.5 53.5L421.02 52.02ZM421.02 52.02L422.5 53.5L419.5 53.5ZM426.14 49.86L422.5 53.5L422.5 51.61ZM439.5 45.4L439.5 53.5L422.5 53.5L426.14 49.86ZM442.48 36.5L445.19 36.5L439.5 53.5L439.5 53.5L439.5 45.4ZM419.5 53.5L422.5 53.5L418.25 57.5ZM422.5 53.5L422.5 69.5L416.43 69.5L418.25 57.5ZM422.5 53.5L439.5 53.5L422.5 69.5ZM439.5 53.5L439.5 53.5L436.67 69.5L422.5 69.5ZM472.5 60.93L472.5 63.79L465.11 69.5L461.41 69.5ZM416.43 69.5L422.5 69.5L414 78ZM422.5 69.5L422.5 86.5L414 86.5L414 78ZM422.5 69.5L436.67 69.5L431.94 78.94ZM422.5 69.5L431.94 78.94L431.94 86.5L422.5 86.5ZM455.5 79.96L455.5 86.5L444.07 86.5ZM461.41 69.5L465.11 69.5L463.39 77.39L460.36 74.36ZM460.36 74.36L463.39 77.39L455.5 86.5L455.5 86.5L455.5 79.96ZM414 86.5L422.5 86.5L422.5 103.5L412.58 93.58ZM412.58 93.58L422.5 103.5L411.68 103.5ZM422.5 86.5L431.94 86.5L429.79 96.21L422.5 103.5ZM428.17 103.5L422.5 103.5L429.79 96.21ZM444.07 86.5L455.5 86.5L445.5 97.12ZM455.5 86.5L455.5 86.5L450.17 103.5L443.5 103.5L445.5 97.12ZM455.5 86.5L455.5 86.5L455.5 86.5ZM455.5 86.5L455.5 86.5L455.5 86.5ZM411.68 103.5L422.5 103.5L415.89 109.72ZM422.5 103.5L422.5 106.89L415.89 109.72ZM422.5 103.5L428.17 103.5L439.5 114.17L439.5 119.5ZM422.5 103.5L439.5 119.5L435.89 119.5L422.5 106.89ZM443.5 103.5L450.17 103.5L446.97 112.03L439.5 119.5L439.5 114.17ZM443.98 119.5L439.5 119.5L446.97 112.03ZM435.89 119.5L439.5 119.5L433.55 125.45ZM439.5 119.5L439.5 129.42L433.55 125.45ZM439.5 119.5L443.98 119.5L442.89 123.11ZM439.5 119.5L442.89 123.11L439.5 129.42ZM322.5 231.13L322.5 236.5L318.07 232.07ZM318.07 232.07L322.5 236.5L317.86 236.5ZM325.9 233.1L322.5 236.5L322.5 231.13ZM330.35 236.5L322.5 236.5L325.9 233.1ZM317.86 236.5L322.5 236.5L317.86 240.86ZM322.5 236.5L322.5 245.23L317.86 240.86ZM322.5 236.5L330.35 236.5L328.88 242.5ZM322.5 236.5L328.88 242.5L322.5 245.23ZM238.5 266.95L238.5 269.5L236.1 266.95ZM236.1 266.95L238.5 269.5L236.72 269.5ZM240.32 267.68L238.5 269.5L238.5 266.95ZM243.6 269.5L238.5 269.5L240.32 267.68ZM305.5 267.2L305.5 269.5L303.9 267.9ZM303.9 267.9L305.5 269.5L302.92 269.5ZM311.17 263.83L305.5 269.5L305.5 267.2ZM307.93 269.5L305.5 269.5L311.17 263.83ZM236.72 269.5L238.5 269.5L234.5 273.5ZM238.5 269.5L238.5 272.03L234.5 273.5ZM238.5 269.5L243.6 269.5L251.25 281.5ZM238.5 269.5L251.25 281.5L238.5 272.03ZM272.5 281.81L272.5 285.5L267.4 280.7ZM267.4 280.7L272.5 285.5L259.75 285.5ZM275.32 282.68L272.5 285.5L272.5 281.81ZM276.5 285.5L272.5 285.5L275.32 282.68ZM302.92 269.5L305.5 269.5L301.8 272.98ZM305.5 269.5L305.5 271.79L301.8 272.98ZM305.5 269.5L307.93 269.5L307.1 271.01ZM305.5 269.5L307.1 271.01L305.5 271.79ZM172.5 294.34L172.5 301.14L170.8 300.8L162.3 292.3ZM162.3 292.3L170.8 300.8L168.72 302.5L155.5 302.5L155.5 297.86ZM188.5 296.2L188.5 302.5L181.54 295.11ZM181.54 295.11L188.5 302.5L188.5 302.5L172.5 301.14L172.5 294.34ZM205.5 296.19L205.5 301.04L203.8 300.8L198.13 295.13ZM198.13 295.13L203.8 300.8L188.5 302.5L188.5 302.5L188.5 296.2ZM215.55 292.45L207.82 300.18L205.5 301.04L205.5 296.19ZM216.55 302.5L208.05 302.5L207.82 300.18L215.55 292.45ZM255.5 289.75L255.5 302.5L252.82 299.82ZM252.82 299.82L255.5 302.5L252.82 302.5ZM259.75 285.5L272.5 285.5L255.5 302.5L255.5 289.75ZM272.5 285.5L272.5 290.6L260.6 302.5L255.5 302.5ZM272.5 285.5L276.5 285.5L272.5 290.6ZM155.5 302.5L168.72 302.5L155.5 305.9ZM205.5 304.93L205.5 313.02L199.83 319.5L192.75 319.5ZM208.05 302.5L216.55 302.5L222.5 311.65L222.5 319.5L212.79 309.79ZM212.79 309.79L222.5 319.5L215.21 319.5L205.5 313.02L205.5 304.93ZM226.86 314.86L222.5 319.5L222.5 311.65ZM226.5 319.5L222.5 319.5L226.86 314.86ZM252.82 302.5L255.5 302.5L253.07 304.93ZM255.5 302.5L255.5 306.42L253.07 304.93ZM255.5 302.5L260.6 302.5L255.5 306.42ZM192.75 319.5L199.83 319.5L205.5 327.5L205.5 335.5L201.25 331.5ZM201.25 331.5L205.5 335.5L202.67 335.5ZM215.21 319.5L222.5 319.5L205.5 335.5L205.5 327.5ZM222.5 319.5L222.5 322.03L208.9 335.5L205.5 335.5ZM222.5 319.5L226.5 319.5L225.7 322.7ZM222.5 319.5L225.7 322.7L222.5 322.03ZM172.5 343.79L172.5 347.94L169.85 349.85L167.44 347.44ZM167.44 347.44L169.85 349.85L155.5 350.05L155.5 347.61ZM188.5 340.22L188.5 344.94L182.93 346.59L179.46 342.89ZM179.46 342.89L182.93 346.59L172.5 347.94L172.5 343.79ZM202.67 335.5L205.5 335.5L205.5 344.57L201.09 348.09L194.8 341.8ZM194.8 341.8L201.09 348.09L188.5 344.94L188.5 340.22ZM205.5 335.5L208.9 335.5L211.41 341.41ZM205.5 335.5L211.41 341.41L205.5 344.57Z"/>
<path fill="#FF9900" d="M439.5 53.5L439.5 53.5L439.5 53.5ZM445.19 36.5L447.91 36.5L443.71 49.03L439.5 53.5L439.5 53.5ZM444.07 53.5L439.5 53.5L443.71 49.03ZM439.5 53.5L439.5 53.5L439.5 53.5ZM439.5 53.5L439.5 69.5L436.67 69.5L439.5 53.5ZM439.5 53.5L444.07 53.5L443.74 65.26L439.5 69.5ZM449.1 69.5L439.5 69.5L443.74 65.26ZM472.5 58.07L472.5 60.93L461.41 69.5L457.72 69.5ZM436.67 69.5L439.5 69.5L439.5 86.5L431.94 78.94ZM431.94 78.94L439.5 86.5L431.94 86.5ZM439.5 69.5L449.1 69.5L447.5 78L439.5 86.5ZM455.5 73.42L455.5 79.96L444.07 86.5L439.5 86.5L447.5 78ZM457.72 69.5L461.41 69.5L460.36 74.36L457.32 71.32ZM457.32 71.32L460.36 74.36L455.5 79.96L455.5 73.42ZM431.94 86.5L439.5 86.5L429.79 96.21ZM439.5 86.5L439.5 103.5L428.17 103.5L429.79 96.21ZM439.5 86.5L444.07 86.5L445.5 97.12L439.5 103.5ZM443.5 103.5L439.5 103.5L445.5 97.12ZM428.17 103.5L439.5 103.5L439.5 114.17ZM439.5 103.5L443.5 103.5L439.5 114.17ZM172.5 301.14L172.5 302.5L170.8 300.8ZM170.8 300.8L172.5 302.5L168.72 302.5ZM188.5 302.5L188.5 302.5L188.5 302.5ZM188.5 302.5L188.5 302.5L172.5 302.5L172.5 301.14ZM205.5 301.04L205.5 302.5L203.8 300.8ZM203.8 300.8L205.5 302.5L188.5 302.5L188.5 302.5ZM207.82 300.18L205.5 302.5L205.5 301.04ZM208.05 302.5L205.5 302.5L207.82 300.18ZM168.72 302.5L172.5 302.5L167.27 307.73L155.5 310.76L155.5 305.9ZM172.5 302.5L172.5 308.41L167.27 307.73ZM172.5 302.5L188.5 302.5L182.1 309.3L172.5 308.41ZM188.5 302.5L188.5 319.5L185.13 319.5L182.1 309.3ZM188.5 302.5L205.5 302.5L188.5 319.5ZM205.5 302.5L205.5 304.93L192.75 319.5L188.5 319.5ZM205.5 302.5L208.05 302.5L212.79 309.79ZM205.5 302.5L212.79 309.79L205.5 304.93ZM185.13 319.5L188.5 319.5L188.5 335.5L188.5 335.5ZM188.5 319.5L192.75 319.5L201.25 331.5ZM188.5 319.5L201.25 331.5L202.67 335.5L188.5 335.5ZM172.5 339.65L172.5 343.79L167.44 347.44L165.02 345.02ZM165.02 345.02L167.44 347.44L155.5 347.61L155.5 345.16ZM188.5 335.5L188.5 335.5L188.5 340.22L179.46 342.89L175.98 339.2ZM175.98 339.2L179.46 342.89L172.5 343.79L172.5 339.65ZM188.5 335.5L202.67 335.5L194.8 341.8ZM188.5 335.5L194.8 341.8L188.5 340.22Z"/>
<path fill="#FF6600" d="M447.91 36.5L450.62 36.5L447.92 44.55L443.71 49.03ZM448.64 53.5L444.07 53.5L443.71 49.03L447.92 44.55ZM444.07 53.5L448.64 53.5L448.44 60.56L443.74 65.26ZM455.5 66.13L455.5 69.5L449.1 69.5L443.74 65.26L448.44 60.56ZM462.3 63.1L455.5 69.5L455.5 66.13ZM472.5 55.21L472.5 58.07L457.72 69.5L455.5 69.5L462.3 63.1ZM449.1 69.5L455.5 69.5L447.5 78ZM455.5 69.5L455.5 73.42L447.5 78ZM455.5 69.5L457.72 69.5L457.32 71.32ZM455.5 69.5L457.32 71.32L455.5 73.42ZM167.27 307.73L160.73 314.27L155.5 315.61L155.5 310.76ZM172.5 308.41L172.5 315.8L160.73 314.27L167.27 307.73ZM182.1 309.3L175.7 316.1L172.5 315.8L172.5 308.41ZM185.13 319.5L176.71 319.5L175.7 316.1L182.1 309.3ZM176.71 319.5L185.13 319.5L188.5 335.5L188.5 335.5L177.83 324.83ZM177.83 324.83L188.5 335.5L172.5 335.5L172.5 335.5ZM188.5 335.5L188.5 335.5L188.5 335.5ZM172.5 335.5L172.5 335.5L172.5 339.65L165.02 345.02L162.61 342.61ZM162.61 342.61L165.02 345.02L155.5 345.16L155.5 342.72ZM172.5 335.5L188.5 335.5L188.5 335.5L175.98 339.2ZM172.5 335.5L175.98 339.2L172.5 339.65ZM188.5 335.5L188.5 335.5L188.5 335.5ZM188.5 335.5L188.5 335.5L188.5 335.5Z"/>
<path fill="#FFFFFF" d="M450.62 36.5L453.33 36.5L452.13 40.08L447.92 44.55ZM453.21 53.5L448.64 53.5L447.92 44.55L452.13 40.08ZM472.5 50.67L472.5 53.5L464.94 53.5ZM448.64 53.5L453.21 53.5L453.15 55.85L448.44 60.56ZM455.5 57.71L455.5 66.13L448.44 60.56L453.15 55.85ZM464.94 53.5L472.5 53.5L462.3 63.1L455.5 66.13L455.5 57.71ZM472.5 53.5L472.5 55.21L462.3 63.1ZM160.73 314.27L155.5 319.5L155.5 315.61ZM172.5 315.8L172.5 319.5L155.5 319.5L160.73 314.27ZM175.7 316.1L172.5 319.5L172.5 315.8ZM176.71 319.5L172.5 319.5L175.7 316.1ZM155.5 319.5L172.5 319.5L169.03 322.77L155.5 320.99ZM172.5 319.5L172.5 335.5L166.74 335.5L169.03 322.77ZM172.5 319.5L176.71 319.5L177.83 324.83ZM172.5 319.5L177.83 324.83L172.5 335.5L172.5 335.5ZM166.74 335.5L172.5 335.5L172.5 335.5L162.61 342.61L160.2 340.2ZM160.2 340.2L162.61 342.61L155.5 342.72L155.5 340.27ZM172.5 335.5L172.5 335.5L172.5 335.5ZM172.5 335.5L172.5 335.5L172.5 335.5Z"/>
<path fill="#FF0000" d="M453.33 36.5L455.5 36.5L452.13 40.08ZM455.5 36.5L455.5 53.5L453.21 53.5L452.13 40.08ZM455.5 36.5L458.33 36.5L461.17 47.83L455.5 53.5ZM458.33 36.5L472.5 36.5L461.17 47.83ZM472.5 43.58L472.5 50.67L464.94 53.5L455.5 53.5L461.17 47.83ZM472.5 36.5L472.5 43.58L461.17 47.83ZM453.21 53.5L455.5 53.5L453.15 55.85ZM455.5 53.5L455.5 57.71L453.15 55.85ZM455.5 53.5L464.94 53.5L455.5 57.71ZM169.03 322.77L162.09 329.3L155.5 328.43L155.5 320.99ZM166.74 335.5L160.97 335.5L162.09 329.3L169.03 322.77ZM160.97 335.5L166.74 335.5L160.2 340.2L157.79 337.79ZM157.79 337.79L160.2 340.2L155.5 340.27L155.5 337.82Z"/>
<path fill="#FFFFFF" d="M162.09 329.3L155.5 335.5L155.5 328.43ZM160.97 335.5L155.5 335.5L162.09 329.3ZM155.5 335.5L160.97 335.5L157.79 337.79ZM155.5 335.5L157.79 337.79L155.5 337.82Z"/>
<path fill="url(#dark)" d="M472.5 36.5L472.5 36.5L472.5 36.5ZM472.5 36.5L472.5 36.5L472.5 36.5Z"/>
<path shape-rendering="auto" class="dg" d="M222.5 36.5L238.5 53.5M238.5 36.5L255.5 53.5M255.5 36.5L272.5 53.5M288.5 36.5L272.5 53.5M305.5 36.5L288.5 53.5M322.5 36.5L305.5 53.5M322.5 36.5L339.5 53.5M339.5 36.5L355.5 53.5M355.5 36.5L372.5 53.5M389.5 36.5L372.5 53.5M389.5 36.5L405.5 53.5M405.5 36.5L422.5 53.5M439.5 36.5L422.5 53.5M455.5 36.5L439.5 53.5M472.5 36.5L455.5 53.5M172.5 53.5L155.5 69.5M172.5 53.5L188.5 69.5M188.5 53.5L205.5 69.5M205.5 53.5L222.5 69.5M238.5 53.5L222.5 69.5M255.5 53.5L238.5 69.5M255.5 53.5L272.5 69.5M272.5 53.5L288.5 69.5M288.5 53.5L305.5 69.5M322.5 53.5L305.5 69.5M322.5 53.5L339.5 69.5M339.5 53.5L355.5 69.5M355.5 53.5L372.5 69.5M372.5 53.5L389.5 69.5M405.5 53.5L389.5 69.5M422.5 53.5L405.5 69.5M439.5 53.5L422.5 69.5M455.5 53.5L439.5 69.5M472.5 53.5L455.5 69.5M155.5 69.5L172.5 86.5M172.5 69.5L188.5 86.5M188.5 69.5L205.5 86.5M222.5 69.5L205.5 86.5M222.5 69.5L238.5 86.5M255.5 69.5L238.5 86.5M272.5 69.5L255.5 86.5M272.5 69.5L288.5 86.5M305.5 69.5L288.5 86.5M305.5 69.5L322.5 86.5M339.5 69.5L322.5 86.5M355.5 69.5L339.5 86.5M372.5 69.5L355.5 86.5M372.5 69.5L389.5 86.5M389.5 69.5L405.5 86.5M422.5 69.5L405.5 86.5M422.5 69.5L439.5 86.5M455.5 69.5L439.5 86.5M455.5 69.5L472.5 86.5M172.5 86.5L155.5 103.5M188.5 86.5L172.5 103.5M188.5 86.5L205.5 103.5M222.5 86.5L205.5 103.5M238.5 86.5L222.5 103.5M255.5 86.5L238.5 103.5M255.5 86.5L272.5 103.5M272.5 86.5L288.5 103.5M288.5 86.5L305.5 103.5M305.5 86.5L322.5 103.5M322.5 86.5L339.5 103.5M355.5 86.5L339.5 103.5M355.5 86.5L372.5 103.5M389.5 86.5L372.5 103.5M389.5 86.5L405.5 103.5M405.5 86.5L422.5 103.5M439.5 86.5L422.5 103.5M455.5 86.5L439.5 103.5M455.5 86.5L472.5 103.5M155.5 103.5L172.5 119.5M172.5 103.5L188.5 119.5M205.5 103.5L188.5 119.5M205.5 103.5L222.5 119.5M238.5 103.5L222.5 119.5M238.5 103.5L255.5 119.5M272.5 103.5L255.5 119.5M288.5 103.5L272.5 119.5M305.5 103.5L288.5 119.5M305.5 103.5L322.5 119.5M322.5 103.5L339.5 119.5M355.5 103.5L339.5 119.5M372.5 103.5L355.5 119.5M389.5 103.5L372.5 119.5M405.5 103.5L389.5 119.5M422.5 103.5L405.5 119.5M422.5 103.5L439.5 119.5M455.5 103.5L439.5 119.5M455.5 103.5L472.5 119.5M155.5 119.5L172.5 136.5M172.5 119.5L188.5 136.5M188.5 119.5L205.5 136.5M222.5 119.5L205.5 136.5M222.5 119.5L238.5 136.5M238.5 119.5L255.5 136.5M272.5 119.5L255.5 136.5M272.5 119.5L288.5 136.5M305.5 119.5L288.5 136.5M305.5 119.5L322.5 136.5M339.5 119.5L322.5 136.5M339.5 119.5L355.5 136.5M372.5 119.5L355.5 136.5M372.5 119.5L389.5 136.5M405.5 119.5L389.5 136.5M405.5 119.5L422.5 136.5M439.5 119.5L422.5 136.5M439.5 119.5L455.5 136.5M455.5 119.5L472.5 136.5M155.5 136.5L172.5 152.5M188.5 136.5L172.5 152.5M188.5 136.5L205.5 152.5M222.5 136.5L205.5 152.5M222.5 136.5L238.5 152.5M238.5 136.5L255.5 152.5M272.5 136.5L255.5 152.5M272.5 136.5L288.5 152.5M288.5 136.5L305.5 152.5M322.5 136.5L305.5 152.5M339.5 136.5L322.5 152.5M355.5 136.5L339.5 152.5M355.5 136.5L372.5 152.5M372.5 136.5L389.5 152.5M389.5 136.5L405.5 152.5M422.5 136.5L405.5 152.5M439.5 136.5L422.5 152.5M439.5 136.5L455.5 152.5M455.5 136.5L472.5 152.5M155.5 152.5L172.5 169.5M172.5 152.5L188.5 169.5M205.5 152.5L188.5 169.5M222.5 152.5L205.5 169.5M222.5 152.5L238.5 169.5M255.5 152.5L238.5 169.5M255.5 152.5L272.5 169.5M288.5 152.5L272.5 169.5M288.5 152.5L305.5 169.5M305.5 152.5L322.5 169.5M322.5 152.5L339.5 169.5M355.5 152.5L339.5 169.5M355.5 152.5L372.5 169.5M389.5 152.5L372.5 169.5M405.5 152.5L389.5 169.5M405.5 152.5L422.5 169.5M422.5 152.5L439.5 169.5M439.5 152.5L455.5 169.5M455.5 152.5L472.5 169.5M155.5 169.5L172.5 186.5M188.5 169.5L172.5 186.5M188.5 169.5L205.5 186.5M205.5 169.5L222.5 186.5M222.5 169.5L238.5 186.5M238.5 169.5L255.5 186.5M272.5 169.5L255.5 186.5M272.5 169.5L288.5 186.5M305.5 169.5L288.5 186.5M322.5 169.5L305.5 186.5M322.5 169.5L339.5 186.5M339.5 169.5L355.5 186.5M355.5 169.5L372.5 186.5M389.5 169.5L372.5 186.5M389.5 169.5L405.5 186.5M422.5 169.5L405.5 186.5M439.5 169.5L422.5 186.5M439.5 169.5L455.5 186.5M455.5 169.5L472.5 186.5M172.5 186.5L155.5 202.5M172.5 186.5L188.5 202.5M205.5 186.5L188.5 202.5M205.5 186.5L222.5 202.5M238.5 186.5L222.5 202.5M238.5 186.5L255.5 202.5M255.5 186.5L272.5 202.5M288.5 186.5L272.5 202.5M305.5 186.5L288.5 202.5M322.5 186.5L305.5 202.5M322.5 186.5L339.5 202.5M355.5 186.5L339.5 202.5M372.5 186.5L355.5 202.5M372.5 186.5L389.5 202.5M405.5 186.5L389.5 202.5M405.5 186.5L422.5 202.5M439.5 186.5L422.5 202.5M455.5 186.5L439.5 202.5M455.5 186.5L472.5 202.5M155.5 202.5L172.5 219.5M188.5 202.5L172.5 219.5M188.5 202.5L205.5 219.5M222.5 202.5L205.5 219.5M238.5 202.5L222.5 219.5M255.5 202.5L238.5 219.5M272.5 202.5L255.5 219.5M272.5 202.5L288.5 219.5M305.5 202.5L288.5 219.5M305.5 202.5L322.5 219.5M339.5 202.5L322.5 219.5M339.5 202.5L355.5 219.5M372.5 202.5L389.5 219.5M405.5 202.5L389.5 219.5M422.5 202.5L405.5 219.5M422.5 202.5L439.5 219.5M439.5 202.5L455.5 219.5M455.5 202.5L472.5 219.5M172.5 219.5L155.5 236.5M172.5 219.5L188.5 236.5M205.5 219.5L188.5 236.5M222.5 219.5L205.5 236.5M222.5 219.5L238.5 236.5M255.5 219.5L238.5 236.5M255.5 219.5L272.5 236.5M288.5 219.5L272.5 236.5M288.5 219.5L305.5 236.5M305.5 219.5L322.5 236.5M339.5 219.5L322.5 236.5M355.5 219.5L339.5 236.5M372.5 219.5L355.5 236.5M389.5 219.5L372.5 236.5M389.5 219.5L405.5 236.5M405.5 219.5L422.5 236.5M422.5 219.5L439.5 236.5M439.5 219.5L455.5 236.5M455.5 219.5L472.5 236.5M172.5 236.5L155.5 252.5M172.5 236.5L188.5 252.5M188.5 236.5L205.5 252.5M222.5 236.5L205.5 252.5M222.5 236.5L238.5 252.5M255.5 236.5L238.5 252.5M255.5 236.5L272.5 252.5M272.5 236.5L288.5 252.5M305.5 236.5L288.5 252.5M322.5 236.5L305.5 252.5M322.5 236.5L339.5 252.5M339.5 236.5L355.5 252.5M372.5 236.5L355.5 252.5M372.5 236.5L389.5 252.5M389.5 236.5L405.5 252.5M422.5 236.5L405.5 252.5M422.5 236.5L439.5 252.5M439.5 236.5L455.5 252.5M455.5 236.5L472.5 252.5M155.5 252.5L172.5 269.5M188.5 252.5L172.5 269.5M205.5 252.5L188.5 269.5M205.5 252.5L222.5 269.5M222.5 252.5L238.5 269.5M255.5 252.5L238.5 269.5M272.5 252.5L255.5 269.5M272.5 252.5L288.5 269.5M288.5 252.5L305.5 269.5M322.5 252.5L305.5 269.5M339.5 252.5L322.5 269.5M339.5 252.5L355.5 269.5M355.5 252.5L372.5 269.5M372.5 252.5L389.5 269.5M405.5 252.5L389.5 269.5M405.5 252.5L422.5 269.5M422.5 252.5L439.5 269.5M439.5 252.5L455.5 269.5M155.5 269.5L172.5 285.5M188.5 269.5L172.5 285.5M188.5 269.5L205.5 285.5M205.5 269.5L222.5 285.5M238.5 269.5L222.5 285.5M238.5 269.5L255.5 285.5M255.5 269.5L272.5 285.5M288.5 269.5L272.5 285.5M305.5 269.5L288.5 285.5M305.5 269.5L322.5 285.5M322.5 269.5L339.5 285.5M339.5 269.5L355.5 285.5M355.5 269.5L372.5 285.5M389.5 269.5L372.5 285.5M389.5 269.5L405.5 285.5M405.5 269.5L422.5 285.5M422.5 269.5L439.5 285.5M155.5 285.5L172.5 302.5M172.5 285.5L188.5 302.5M188.5 285.5L205.5 302.5M222.5 285.5L205.5 302.5M238.5 285.5L222.5 302.5M238.5 285.5L255.5 302.5M272.5 285.5L255.5 302.5M288.5 285.5L272.5 302.5M288.5 285.5L305.5 302.5M322.5 285.5L305.5 302.5M339.5 285.5L322.5 302.5M339.5 285.5L355.5 302.5M355.5 285.5L372.5 302.5M389.5 285.5L372.5 302.5M389.5 285.5L405.5 302.5M405.5 285.5L422.5 302.5M172.5 302.5L155.5 319.5M188.5 302.5L172.5 319.5M205.5 302.5L188.5 319.5M205.5 302.5L222.5 319.5M238.5 302.5L222.5 319.5M255.5 302.5L238.5 319.5M272.5 302.5L255.5 319.5M272.5 302.5L288.5 319.5M288.5 302.5L305.5 319.5M305.5 302.5L322.5 319.5M322.5 302.5L339.5 319.5M355.5 302.5L339.5 319.5M372.5 302.5L355.5 319.5M372.5 302.5L389.5 319.5M405.5 302.5L389.5 319.5M405.5 302.5L422.5 319.5M172.5 319.5L155.5 335.5M172.5 319.5L188.5 335.5M188.5 319.5L205.5 335.5M222.5 319.5L205.5 335.5M222.5 319.5L238.5 335.5M255.5 319.5L238.5 335.5M255.5 319.5L272.5 335.5M288.5 319.5L272.5 335.5M288.5 319.5L305.5 335.5M322.5 319.5L305.5 335.5M322.5 319.5L339.5 335.5M355.5 319.5L339.5 335.5M355.5 319.5L372.5 335.5M372.5 319.5L389.5 335.5M389.5 319.5L405.5 335.5M422.5 319.5L405.5 335.5M155.5 335.5L172.5 352.5M172.5 335.5L188.5 352.5M188.5 335.5L205.5 352.5M205.5 335.5L222.5 352.5M222.5 335.5L238.5 352.5M255.5 335.5L238.5 352.5M272.5 335.5L255.5 352.5M272.5 335.5L288.5 352.5M305.5 335.5L288.5 352.5M305.5 335.5L322.5 352.5M322.5 335.5L339.5 352.5M355.5 335.5L339.5 352.5M372.5 335.5L355.5 352.5M372.5 335.5L389.5 352.5M389.5 335.5L405.5 352.5M405.5 335.5L422.5 352.5M439.5 335.5L422.5 352.5M455.5 335.5L439.5 352.5"/>
<path class="cl" d="M272.5 47.32L266.32 47.32M266.32 47.32L257.39 53.5M278.32 47.32L272.5 47.32M286.72 53.5L278.32 47.32M339.5 42.88L332.42 46.42M332.42 46.42L328.88 53.5M347.5 36.5L342.7 39.9M355.5 49.72L353.37 51.23M342.7 39.9L339.5 42.88M353.37 51.23L350.93 53.5M372.5 42.17L361.76 42.76M372.5 51.61L370.71 51.71M361.76 42.76L355.5 49.72M370.71 51.71L369.1 53.5M384.86 41.14L372.5 42.17M374.56 51.44L372.5 51.61M389.5 43.79L384.86 41.14M378.17 53.5L374.56 51.44M405.5 37.96L393.01 40.23M405.5 47.67L400.82 48.52M393.01 40.23L389.5 43.79M400.82 48.52L395.9 53.5M408.9 36.5L406.24 37.24M422.5 39.02L411.17 42.17M422.5 45.31L416.09 47.09M422.5 51.61L421.02 52.02M406.24 37.24L405.5 37.96M411.17 42.17L405.5 47.67M416.09 47.09L409.5 53.5M421.02 52.02L419.5 53.5M427.73 36.5L422.5 39.02M438.29 37.71L422.5 45.31M426.14 49.86L422.5 51.61M439.5 37.31L438.29 37.71M439.5 45.4L426.14 49.86M439.77 36.5L439.5 37.31M442.48 36.5L439.5 45.4M447.91 36.5L443.71 49.03M450.62 36.5L447.92 44.55M453.33 36.5L452.13 40.08M444.07 53.5L443.71 49.03M448.64 53.5L447.92 44.55M453.21 53.5L452.13 40.08M458.33 36.5L461.17 47.83M472.5 50.67L464.94 53.5M472.5 43.58L461.17 47.83M160.6 64.7L155.5 64.7M161.17 69.5L160.6 64.7M222.5 69.06L222.03 69.06M222.03 69.06L220.95 69.5M223.26 68.74L222.5 69.06M223.5 69.5L223.26 68.74M257.39 53.5L257.86 55.72M257.86 55.72L262.17 69.5M286.72 53.5L288.5 54.44M305.5 55.5L289.09 54.05M305.5 65.5L300.81 65.09M289.09 54.05L288.5 54.44M300.81 65.09L294.17 69.5M319.5 56.32L305.5 55.5M309.5 65.74L305.5 65.5M321.69 69.5L319.5 56.32M310.13 69.5L309.5 65.74M328.88 53.5L327.14 57.86M327.14 57.86L323.87 69.5M350.93 53.5L344.83 58.83M344.83 58.83L342.17 69.5M369.1 53.5L361.98 59.6M372.5 65.14L370.07 67.21M370.07 67.21L368.58 69.5M378.17 53.5L389.5 57.77M389.5 68.43L387.61 67.72M387.61 67.72L372.5 65.14M395.9 53.5L389.5 57.77M392.7 66.3L389.5 68.43M405.5 66.3L392.7 66.3M409.5 53.5L405.5 66.3M419.5 53.5L418.25 57.5M416.43 69.5L418.25 57.5M444.07 53.5L443.74 65.26M448.64 53.5L448.44 60.56M453.21 53.5L453.15 55.85M449.1 69.5L443.74 65.26M455.5 66.13L448.44 60.56M455.5 57.71L453.15 55.85M462.3 63.1L455.5 66.13M464.94 53.5L455.5 57.71M472.5 66.64L468.8 69.5M472.5 63.79L465.11 69.5M472.5 60.93L461.41 69.5M472.5 58.07L457.72 69.5M472.5 55.21L462.3 63.1M161.17 69.5L160.6 74.6M160.6 74.6L155.5 75.88M205.5 75.92L198.74 79.74M198.74 79.74L198.74 86.5M220.95 69.5L205.5 75.92M222.5 70.15L212.26 86.5M223.5 69.5L238.5 78.45M232.89 86.5L222.5 70.15M248.27 76.73L238.5 78.45M255.5 84.95L248.27 76.73M262.17 69.5L255.5 84.95M288.5 76.3L283.65 81.35M283.65 81.35L282.5 86.5M294.17 69.5L288.5 76.3M321.69 69.5L322.5 70.56M310.13 69.5L322.5 85.74M323.87 69.5L322.5 70.56M325.9 83.1L322.5 85.74M339.5 74.36L325.9 83.1M342.17 69.5L339.5 74.36M368.58 69.5L369.67 72.33M372.5 73.42L369.67 72.33M383.83 86.5L372.5 73.42M416.43 69.5L414 78M414 86.5L414 78M436.67 69.5L431.94 78.94M431.94 78.94L431.94 86.5M449.1 69.5L447.5 78M455.5 79.96L444.07 86.5M455.5 73.42L447.5 78M468.8 69.5L466.43 80.43M465.11 69.5L463.39 77.39M461.41 69.5L460.36 74.36M457.72 69.5L457.32 71.32M469.46 83.46L466.83 86.5M466.43 80.43L461.17 86.5M460.36 74.36L455.5 79.96M457.32 71.32L455.5 73.42M159.97 99.03L155.5 97.83M160.5 103.5L159.97 99.03M198.74 86.5L194.06 92.06M205.5 102.77L205.17 103.17M194.06 92.06L193.26 103.5M205.17 103.17L205.14 103.5M212.26 86.5L216.94 92.06M205.83 103.17L205.5 102.77M222.5 98.82L216.94 92.06M206.11 103.5L205.83 103.17M232.89 86.5L222.5 98.82M255.5 91.36L253.61 103.5M257.05 103.5L255.5 91.36M282.5 86.5L282.5 97.12M282.5 97.12L282.5 103.5M355.5 98.64L352.83 103.5M358.59 103.5L355.5 98.64M383.83 86.5L384.19 91.81M373.71 103.5L373.56 102.44M385.86 103.5L384.19 91.81M414 86.5L412.58 93.58M412.58 93.58L411.68 103.5M431.94 86.5L429.79 96.21M428.17 103.5L429.79 96.21M444.07 86.5L445.5 97.12M443.5 103.5L445.5 97.12M466.83 86.5L465.21 96.21M461.17 86.5L460.36 91.36M470.07 101.07L469.35 103.5M465.21 96.21L463.06 103.5M460.36 91.36L456.76 103.5M160.5 103.5L162.04 109.65M162.04 109.65L155.5 110.77M188.5 110.61L181.23 112.23M181.23 112.23L179.61 119.5M193.26 103.5L188.5 110.61M205.14 103.5L204.54 104.41M205.5 118.76L203.95 119.5M205.5 103.94L204.54 104.41M206.11 103.5L222.5 114.21M206.09 119.5L205.5 118.76M217.81 119.5L205.5 103.94M228.9 113.1L222.5 114.21M235.3 119.5L228.9 113.1M253.61 103.5L255.5 104.95M257.05 103.5L255.5 104.95M282.5 103.5L281.64 110.36M283.17 119.5L281.64 110.36M305.5 110.61L293.36 119.5M322.5 116.83L319.1 116.3M319.1 116.3L305.5 110.61M339.5 112.91L334.09 114.41M323.11 119.5L322.5 116.83M326.36 107.14L329.18 119.5M334.09 114.41L335.25 119.5M352.83 103.5L354.4 104.6M343.36 115.64L339.5 112.91M355.5 105.63L354.4 104.6M355.5 116.3L348.88 110.12M347.5 119.5L343.36 115.64M358.59 103.5L355.5 105.63M368.25 107.5L355.5 116.3M372.5 107.5L368.25 107.5M373.71 103.5L372.5 107.5M385.86 103.5L384.4 108.3M389.5 115.5L384.4 108.3M391.79 117.21L389.5 115.5M405.5 117.21L391.79 117.21M406.44 118.61L405.5 117.21M411.68 103.5L415.89 109.72M422.5 116.59L415.7 119.5M422.5 111.74L406.44 118.61M422.5 106.89L415.89 109.72M428.17 103.5L439.5 114.17M425.59 119.5L422.5 116.59M430.74 119.5L422.5 111.74M435.89 119.5L422.5 106.89M450.17 103.5L446.97 112.03M443.5 103.5L439.5 114.17M455.5 106.7L450.38 119.5M443.98 119.5L446.97 112.03M469.35 103.5L468.86 116.07M463.06 103.5L462.79 110.36M456.76 103.5L456.71 104.64M468.86 116.07L466.83 119.5M462.79 110.36L457.39 119.5M456.71 104.64L455.5 106.7M179.61 119.5L176.5 123.75M188.5 131.64L186.5 134.38M176.5 123.75L174.28 136.5M186.5 134.38L186.13 136.5M203.95 119.5L205.5 120.39M199.83 136.5L188.5 131.64M206.09 119.5L205.5 120.39M217.81 119.5L208.9 133.1M208.33 136.5L208.9 133.1M235.3 119.5L238.5 121.93M255.5 131.64L244.17 125.17M244.17 125.17L238.5 121.93M261.17 130.83L255.5 131.64M272.5 129.21L261.17 130.83M283.17 119.5L276.26 123.5M288.5 131.86L285.68 133.5M276.26 123.5L272.5 129.21M285.68 133.5L283.7 136.5M293.36 119.5L300.78 124.22M291.33 133.67L288.5 131.86M301.5 136.5L300.78 124.22M291.5 136.5L291.33 133.67M322.5 125.17L317.64 131.64M317.64 131.64L316.83 136.5M323.11 119.5L322.5 125.17M329.18 119.5L327.94 131.06M335.25 119.5L334.74 124.26M339.5 132.64L327.94 131.06M339.5 124.91L334.74 124.26M344.83 136.5L339.5 132.64M389.5 125.17L385.72 132.72M385.72 132.72L385.72 136.5M400.17 125.17L389.5 125.17M405.5 131.27L401.5 136.5M391.5 136.5L400.17 125.17M415.7 119.5L422.5 127.35M411.68 136.5L405.5 131.27M425.59 119.5L422.5 127.35M430.74 119.5L425.05 133.95M435.89 119.5L433.55 125.45M428.88 136.5L425.05 133.95M439.5 129.42L433.55 125.45M455.5 123.75L452.59 133.41M450.38 119.5L447.74 128.26M443.98 119.5L442.89 123.11M452.59 133.41L450.93 136.5M447.74 128.26L443.31 136.5M442.89 123.11L439.5 129.42M466.83 119.5L466.24 130.24M457.39 119.5L457.29 121.29M466.24 130.24L461.68 136.5M457.29 121.29L455.5 123.75M172.5 146.1L169.67 149.83M169.67 149.83L169.1 152.5M174.28 136.5L172.5 146.1M186.13 136.5L185.59 139.41M188.5 147.17L185.59 139.41M199.83 136.5L205.5 139.17M191.33 152.5L188.5 147.17M208.33 136.5L205.5 139.17M238.5 142.9L229.77 143.77M229.77 143.77L228.9 152.5M255.5 146.35L246.06 143.61M246.06 143.61L238.5 142.9M262.58 145.83L255.5 146.35M272.5 142.5L268.25 152.5M259.75 152.5L262.58 145.83M283.7 136.5L288.5 142.5M280.5 152.5L272.5 142.5M301.5 136.5L305.5 140.77M291.5 136.5L305.5 151.43M302.67 152.5L288.5 142.5M316.83 136.5L305.5 140.77M307.39 150.72L305.5 151.43M322.5 149.3L307.39 150.72M327.36 147.93L322.5 149.3M331 152.5L327.36 147.93M344.83 136.5L342.17 149.83M355.5 146.5L342.17 149.83M372.5 143.36L367.64 147.93M367.64 147.93L355.5 146.5M385.72 136.5L389.5 147.17M377.73 152.5L372.5 143.36M401.5 136.5L405.5 140.77M391.5 136.5L405.5 151.43M397.5 152.5L389.5 147.17M411.68 136.5L405.5 140.77M409.75 148.5L405.5 151.43M422.5 146.1L409.75 148.5M428.88 136.5L422.5 146.1M439.5 144.5L427.36 152.5M450.93 136.5L449.1 146.1M443.31 136.5L442.7 139.7M449.1 146.1L444.83 152.5M442.7 139.7L439.5 144.5M461.68 136.5L460.73 141.42M169.1 152.5L161.68 158.68M161.68 158.68L155.5 167.61M188.5 153.63L178.76 159.15M188.5 164.97L185.72 166.54M178.76 159.15L175.32 169.5M185.72 166.54L184.74 169.5M191.33 152.5L188.5 153.63M196.06 161.94L188.5 164.97M196.06 169.5L196.06 161.94M222.5 163.83L216.12 169.5M228.9 152.5L238.5 163.83M227.3 169.5L222.5 163.83M244.88 163.12L238.5 163.83M255.5 164.64L247.65 169.5M255.5 156.55L244.88 163.12M268.25 152.5L272.5 161.94M259.75 152.5L263.23 160.23M265.7 169.5L255.5 164.64M263.23 160.23L255.5 156.55M280.5 152.5L272.5 161.94M302.67 152.5L299.12 163.12M299.12 163.12L299.12 169.5M322.5 163.83L317.27 164.27M317.27 164.27L316.32 169.5M331 152.5L339.5 155.33M349.5 158.88L339.5 155.33M354.05 169.5L349.5 158.88M372.5 163.83L368.25 165.25M368.25 165.25L361.17 169.5M377.73 152.5L372.5 163.83M397.5 152.5L403.5 154.62M405.5 154.62L403.5 154.62M422.5 156.75L407.93 154.93M407.93 154.93L405.5 154.62M427.36 152.5L425.33 155.33M425.33 155.33L422.5 156.75M444.83 152.5L443.71 156.97M452.13 165.92L450.93 169.5M472.5 158.17L469.67 166.67M469.67 166.67L468.25 169.5M172.5 178L168.42 182.42M168.42 182.42L166.12 186.5M175.32 169.5L172.5 178M184.74 169.5L182.68 175.68M188.5 180.83L182.68 175.68M196.06 169.5L195.3 176.3M195.3 176.3L188.5 180.83M216.12 169.5L216.12 180.12M216.12 180.12L215.21 186.5M227.3 169.5L225.5 172.69M238.5 178L235.5 183.31M225.5 172.69L225.5 186.5M235.5 183.31L235.5 186.5M247.65 169.5L255.5 180.83M243.6 186.5L238.5 178M265.7 169.5L255.5 180.83M272.5 183.1L268.25 186.5M275.17 186.5L272.5 183.1M299.12 169.5L299.12 175.88M305.5 176.79L299.12 175.88M309.28 182.72L305.5 176.79M316.32 169.5L318.72 173.28M322.5 182.72L309.28 182.72M322.5 173.28L318.72 173.28M333.83 186.5L322.5 182.72M328.17 175.17L322.5 173.28M354.05 169.5L355.5 173.75M361.17 169.5L356.92 170.92M372.5 184.61L371.08 185.08M356.92 170.92L355.5 173.75M371.08 185.08L370.38 186.5M374.62 184.38L372.5 184.61M389.5 182.25L388.08 186.5M373.92 186.5L374.62 184.38M405.5 180.32L399.68 180.32M390.57 186.5L389.5 182.25M399.68 180.32L401.23 186.5M412.3 179.7L405.5 180.32M411.17 186.5L412.3 179.7M439.5 181.64L435.25 186.5M450.93 169.5L449.5 180.12M449.5 180.12L439.5 181.64M468.25 169.5L466.83 180.83M466.83 180.83L465.21 186.5M155.88 202.14L155.5 201.59M166.12 186.5L168.67 190.11M172.5 202.14L155.88 202.14M172.5 190.11L168.67 190.11M172.86 202.5L172.5 202.14M184.89 202.5L172.5 190.11M205.5 195.64L197 202.5M215.21 186.5L222.5 189.5M222.5 199.5L216.83 197.17M208.69 202.5L205.5 195.64M216.83 197.17L219.31 202.5M225.5 186.5L222.5 189.5M235.5 186.5L222.5 199.5M238.5 202.14L238.14 202.5M238.5 190.11L226.11 202.5M243.6 186.5L255.5 197.7M238.88 202.5L238.5 202.14M251.67 202.5L238.5 190.11M268.25 186.5L272.5 187.57M272.5 198.23L266.32 196.68M266.32 196.68L255.5 197.7M275.17 186.5L272.5 187.57M279.61 195.39L272.5 198.23M288.5 196.5L279.61 195.39M295.79 195.64L288.5 196.5M305.5 195.64L295.79 195.64M312.79 195.64L305.5 195.64M333.83 186.5L326.75 190.5M339.5 199.3L337.38 200.5M337.38 200.5L336.67 202.5M343.06 198.94L339.5 199.3M343.06 202.5L343.06 198.94M370.38 186.5L370.38 188.5M372.5 188.5L370.38 188.5M388.08 186.5L386.88 200.04M373.92 186.5L373.81 187.73M386.88 200.04L382.7 202.5M373.81 187.73L372.5 188.5M390.57 186.5L391.5 200.5M401.23 186.5L401.5 190.5M395.9 202.5L391.5 200.5M405.5 192.32L401.5 190.5M411.17 186.5L411.41 192.07M411.41 192.07L405.5 192.32M435.25 186.5L435.38 190.38M424.62 186.5L425.08 200.08M434.64 202.5L435.38 190.38M424.93 202.5L425.08 200.08M465.21 186.5L464 194.5M464 194.5L461.17 202.5M172.5 202.97L155.97 202.97M172.5 218.71L171.71 218.71M155.97 202.97L155.5 203.02M171.71 218.71L164 219.5M172.86 202.5L172.5 202.97M184.89 202.5L172.5 218.71M188.5 211L174.79 219.5M197 202.5L205.5 208.17M194.17 219.5L188.5 211M208.69 202.5L205.5 208.17M219.31 202.5L215.21 209.79M215.21 219.5L215.21 209.79M238.14 202.5L238.14 202.88M226.11 202.5L226.11 215.67M236.37 219.5L238.14 202.88M225.7 219.5L226.11 215.67M238.88 202.5L240.77 217.23M251.67 202.5L252.1 205.9M243.36 219.5L240.77 217.23M255.5 208.88L252.1 205.9M264.94 210.06L255.5 208.88M272.5 218.37L269.67 219.5M272.5 207.03L264.94 210.06M273.28 219.5L272.5 218.37M281.09 219.5L272.5 207.03M336.67 202.5L332.7 209.3M339.5 215.25L333.32 219.5M339.5 204.62L332.7 209.3M343.06 202.5L343.06 206.28M348.64 219.5L339.5 215.25M343.06 206.28L339.5 204.62M382.7 202.5L389.5 204.93M389.5 217.07L385.72 215.72M385.72 215.72L385.72 219.5M395.9 202.5L389.5 204.93M393.06 215.72L389.5 217.07M405.5 208.88L400.79 219.5M391.38 219.5L393.06 215.72M416.83 208.17L405.5 208.88M422.5 207.5L416.83 208.17M434.64 202.5L431.94 211.94M424.93 202.5L424.39 204.39M431.94 211.94L427.36 219.5M424.39 204.39L422.5 207.5M455.5 209.3L449.5 213.12M461.17 202.5L459.75 206.75M459.75 206.75L455.5 209.3M164 219.5L155.5 221.39M174.79 219.5L188.5 223.75M194.17 219.5L188.5 223.75M205.5 227.06L191.33 236.5M215.21 219.5L205.5 227.06M236.37 219.5L238.5 223.75M225.7 219.5L229.36 226.79M229.36 226.79L229.36 236.5M243.36 219.5L238.5 223.75M255.5 231.64L249.83 236.5M269.67 219.5L272.5 220.71M272.5 232.86L266.12 230.12M266.12 230.12L255.5 231.64M273.28 219.5L272.5 220.71M281.09 219.5L272.5 232.86M288.5 230.64L278.5 236.5M297.94 236.5L288.5 230.64M322.5 222.18L310.67 224.67M322.5 231.13L318.07 232.07M310.67 224.67L310.14 236.5M318.07 232.07L317.86 236.5M333.32 219.5L337.23 221.77M331.57 227.43L322.5 222.18M325.9 233.1L322.5 231.13M339.5 223.5L337.23 221.77M339.5 233.5L331.57 227.43M330.35 236.5L325.9 233.1M348.64 219.5L339.5 223.5M344.3 231.4L339.5 233.5M355.5 226.79L351.74 236.5M342.32 236.5L344.3 231.4M365.21 226.79L355.5 226.79M372.5 225.88L365.21 226.79M377.5 231.5L372.5 225.88M385.72 219.5L387.5 221.5M389.5 233.88L381.94 236.5M389.5 227.35L377.5 231.5M389.5 220.81L387.5 221.5M405.5 228.94L403.04 233.88M400.79 219.5L396.88 227.35M391.38 219.5L390.73 220.81M403.04 233.88L389.5 233.88M396.88 227.35L389.5 227.35M390.73 220.81L389.5 220.81M419.1 236.5L405.5 228.94M427.36 219.5L426.75 223.75M437.38 234.38L436.88 236.5M426.75 223.75L423.81 236.5M172.5 247.17L167.64 252.5M188.5 241.83L184.5 248.5M174.79 252.5L172.5 247.17M184.5 248.5L186.21 252.5M191.33 236.5L189.5 237.44M205.5 243.77L199.5 246.85M189.5 237.44L188.5 241.83M199.5 246.85L198.21 252.5M213.35 245.12L205.5 243.77M213.35 252.5L213.35 245.12M229.36 236.5L238.5 245.64M249.83 236.5L238.5 245.64M255.5 241.07L244.88 252.5M266.12 252.5L255.5 241.07M278.5 236.5L279.36 243.36M279.36 243.36L279.36 252.5M297.94 236.5L297 244.5M297 252.5L297 244.5M310.14 236.5L310.14 248.14M317.86 236.5L317.86 240.86M314.77 252.5L310.14 248.14M322.5 245.23L317.86 240.86M330.35 236.5L328.88 242.5M328.88 242.5L322.5 245.23M351.74 236.5L355.5 245.64M342.32 236.5L344.3 241.3M361.88 246.5L355.5 245.64M361.17 252.5L361.88 246.5M381.94 236.5L381 244.5M381 244.5L380.06 252.5M419.1 236.5L419.67 239.17M422.5 238.28L419.67 239.17M436.88 236.5L434.97 248.23M423.81 236.5L423.63 237.57M434.97 248.23L428.17 252.5M423.63 237.57L422.5 238.28M167.64 252.5L172.5 257.36M158.33 269.5L155.5 266.67M174.79 252.5L172.5 257.36M186.21 252.5L183.93 257.36M188.5 258.17L183.93 257.36M191.9 266.1L188.5 258.17M198.21 252.5L200.4 257.6M205.5 268.29L201.25 269.5M205.5 262.21L191.9 266.1M205.5 256.14L200.4 257.6M222.5 259.79L219.1 266.1M213.35 252.5L210.6 257.6M209.75 269.5L205.5 268.29M219.1 266.1L205.5 262.21M210.6 257.6L205.5 256.14M238.5 258.45L228.1 258.45M238.5 266.95L236.1 266.95M224.87 269.5L222.5 259.79M228.1 258.45L230.8 269.5M236.1 266.95L236.72 269.5M244.88 252.5L252.46 255.54M246.39 261.61L238.5 258.45M240.32 267.68L238.5 266.95M255.5 257.22L252.46 255.54M255.5 266.67L246.39 261.61M243.6 269.5L240.32 267.68M266.12 252.5L255.5 257.22M260.6 264.4L255.5 266.67M279.36 252.5L288.5 259.3M297 252.5L291.07 255.07M305.5 258.01L297.48 261.48M305.5 267.2L303.9 267.9M291.07 255.07L288.5 259.3M297.48 261.48L292.62 269.5M303.9 267.9L302.92 269.5M314.77 252.5L305.5 258.01M311.17 263.83L305.5 267.2M322.5 261L317.64 269.5M307.93 269.5L311.17 263.83M339.5 263.83L331 269.5M355.5 258.17L349.5 263.12M349.5 263.12L339.5 263.83M372.5 262.21L369.31 266.31M361.17 252.5L358.69 255.69M369.31 266.31L365.21 269.5M358.69 255.69L355.5 258.17M380.06 252.5L379.3 259.3M379.3 259.3L372.5 262.21M422.5 259.3L416.12 263.12M428.17 252.5L426.75 256.75M426.75 256.75L422.5 259.3M158.33 269.5L172.5 276.17M162.3 285.5L155.5 282.59M182.68 275.32L172.5 276.17M188.5 278.64L182.68 275.32M201.25 269.5L205.5 272.7M198.7 285.5L188.5 278.64M209.75 269.5L206.98 270.89M222.5 273.77L214.37 277.85M222.5 284.43L221.76 284.8M206.98 270.89L205.5 272.7M214.37 277.85L208.12 285.5M221.76 284.8L221.19 285.5M224.87 269.5L222.5 273.77M230.8 269.5L222.5 284.43M236.72 269.5L234.5 273.5M238.5 280.45L224.79 285.5M238.5 272.03L234.5 273.5M243.6 269.5L251.25 281.5M245.3 285.5L238.5 280.45M251.25 281.5L238.5 272.03M272.5 281.81L267.4 280.7M267.4 280.7L259.75 285.5M275.32 282.68L272.5 281.81M288.5 282.3L284.74 273.26M276.5 285.5L275.32 282.68M292.62 269.5L288.5 282.3M302.92 269.5L301.8 272.98M305.5 280.93L291.33 285.5M305.5 271.79L301.8 272.98M322.5 278.39L319.93 283.08M317.64 269.5L313.52 277.05M307.93 269.5L307.1 271.01M319.93 283.08L314.94 285.5M313.52 277.05L305.5 280.93M307.1 271.01L305.5 271.79M331 269.5L330.23 276.77M330.23 276.77L322.5 278.39M365.21 269.5L366.83 280.17M366.83 280.17L366.83 285.5M162.3 285.5L172.5 287.54M172.5 294.34L162.3 292.3M172.5 301.14L170.8 300.8M162.3 292.3L155.5 297.86M170.8 300.8L168.72 302.5M188.5 289.91L174.59 287.72M188.5 296.2L181.54 295.11M174.59 287.72L172.5 287.54M181.54 295.11L172.5 294.34M198.7 285.5L205.5 286.47M205.5 291.33L192.47 289.47M205.5 296.19L198.13 295.13M205.5 301.04L203.8 300.8M192.47 289.47L188.5 289.91M198.13 295.13L188.5 296.2M208.12 285.5L205.5 286.47M221.19 285.5L205.5 291.33M215.55 292.45L205.5 296.19M207.82 300.18L205.5 301.04M216.55 302.5L215.55 292.45M208.05 302.5L207.82 300.18M224.79 285.5L227.83 296.83M227.83 302.5L227.83 296.83M245.3 285.5L243.87 290.87M255.5 289.75L252.82 299.82M243.87 290.87L243.87 302.5M252.82 299.82L252.82 302.5M259.75 285.5L255.5 289.75M272.5 290.6L260.6 302.5M276.5 285.5L272.5 290.6M288.5 297.19L284.06 302.5M288.5 286.56L275.17 302.5M305.5 293.23L299.5 296.5M291.33 285.5L289.5 286.5M299.5 296.5L288.5 297.19M289.5 286.5L288.5 286.56M314.94 285.5L305.5 293.23M322.5 293.35L311.68 302.5M333.32 291.68L322.5 293.35M339.5 299.5L331 302.5M339.5 289.5L333.32 291.68M355.5 293.06L346.61 293.06M345.5 302.5L339.5 299.5M346.61 293.06L339.5 289.5M366.83 285.5L370.61 300.61M370.61 300.61L355.5 293.06M168.72 302.5L155.5 305.9M167.27 307.73L155.5 310.76M160.73 314.27L155.5 315.61M172.5 308.41L167.27 307.73M172.5 315.8L160.73 314.27M182.1 309.3L172.5 308.41M175.7 316.1L172.5 315.8M185.13 319.5L182.1 309.3M176.71 319.5L175.7 316.1M205.5 313.02L199.83 319.5M205.5 304.93L192.75 319.5M216.55 302.5L222.5 311.65M208.05 302.5L212.79 309.79M215.21 319.5L205.5 313.02M212.79 309.79L205.5 304.93M227.83 302.5L234.14 307.14M226.86 314.86L222.5 311.65M233.17 319.5L234.14 307.14M226.5 319.5L226.86 314.86M243.87 302.5L244.98 313.02M252.82 302.5L253.07 304.93M255.5 306.42L253.07 304.93M260.6 302.5L255.5 306.42M272.5 317.54L270.28 319.5M272.5 311L262.89 319.5M288.5 311L285.64 316.46M284.06 302.5L279.93 310.39M275.17 302.5L274.21 304.32M285.64 316.46L272.5 317.54M279.93 310.39L272.5 311M274.21 304.32L272.5 304.46M305.5 309.3L296.23 310.23M296.23 310.23L288.5 311M311.68 302.5L312.3 309.3M312.3 309.3L305.5 309.3M372.5 317.88L368.25 319.5M384.46 302.5L384.46 314.46M384.46 314.46L372.5 317.88M169.03 322.77L155.5 320.99M162.09 329.3L155.5 328.43M166.74 335.5L169.03 322.77M160.97 335.5L162.09 329.3M176.71 319.5L177.83 324.83M199.83 319.5L205.5 327.5M192.75 319.5L201.25 331.5M201.25 331.5L202.67 335.5M215.21 319.5L205.5 327.5M222.5 334.66L221.65 335.5M222.5 330.45L217.4 335.5M222.5 326.24L213.15 335.5M222.5 322.03L208.9 335.5M238.5 324.83L236.37 333.37M233.17 319.5L231.03 328.03M226.5 319.5L225.7 322.7M226.5 335.5L222.5 334.66M236.37 333.37L222.5 330.45M231.03 328.03L222.5 326.24M225.7 322.7L222.5 322.03M243.36 330.93L238.5 324.83M255.5 330.93L243.36 330.93M270.28 319.5L272.5 326.36M262.89 319.5L266.12 329.5M266.12 329.5L255.5 330.93M279.61 328.39L272.5 326.36M281.64 335.5L279.61 328.39M305.5 330.17L299.12 329.5M299.12 329.5L297 335.5M311.17 330.17L305.5 330.17M309.42 335.5L311.17 330.17M355.5 329.1L347.5 327.5M368.25 319.5L364 327.5M364 327.5L355.5 329.1M172.5 352.09L172.26 352.26M172.5 347.94L169.85 349.85M172.5 343.79L167.44 347.44M172.5 339.65L165.02 345.02M166.74 335.5L160.2 340.2M160.97 335.5L157.79 337.79M169.85 349.85L155.5 350.05M167.44 347.44L155.5 347.61M165.02 345.02L155.5 345.16M162.61 342.61L155.5 342.72M160.2 340.2L155.5 340.27M157.79 337.79L155.5 337.82M188.5 349.67L186.41 350.28M188.5 344.94L182.93 346.59M188.5 340.22L179.46 342.89M186.41 350.28L172.5 352.09M182.93 346.59L172.5 347.94M179.46 342.89L172.5 343.79M175.98 339.2L172.5 339.65M205.5 344.57L201.09 348.09M202.67 335.5L194.8 341.8M199.83 352.5L188.5 349.67M201.09 348.09L188.5 344.94M194.8 341.8L188.5 340.22M221.65 335.5L222.5 337.5M217.4 335.5L222.5 347.5M213.15 335.5L218.8 348.8M208.9 335.5L211.41 341.41M218.8 348.8L211.88 352.5M211.41 341.41L205.5 344.57M226.5 335.5L223.73 336.81M238.5 339.28L229.88 343.35M238.5 348.72L236.04 349.88M223.73 336.81L222.5 337.5M229.88 343.35L222.5 347.5M236.04 349.88L231.39 352.5M251.72 339.28L238.5 339.28M242.28 348.72L238.5 348.72M255.5 341.17L251.72 339.28M249.83 352.5L242.28 348.72M265.21 342.79L255.5 341.17M272.5 348.25L265.21 342.79M281.64 335.5L288.5 341.17M277.83 352.5L272.5 348.25M297 335.5L288.5 341.17M309.42 335.5L322.5 346.12M339.5 349.31L335.58 348.58M335.58 348.58L322.5 346.12M353.37 337.77L339.5 338.69M342.7 349.1L339.5 349.31M355.5 338.41L353.37 337.77M354.05 352.5L342.7 349.1M368.48 339.52L355.5 338.41M370.91 352.5L368.48 339.52M389.5 345.7L382.7 345.7M382.7 345.7L378.17 352.5M405.5 344L396.36 342.79M396.36 342.79L389.5 345.7M422.5 346.83L415.21 345.21M415.21 345.21L405.5 344M428.17 346.83L422.5 346.83M432.7 352.5L428.17 346.83"/>
<path fill="url(#dark)" stroke="#000" d="M455.5 36.5H472.5V52.5H463L457.5 50L455.5 45Z"/><path fill="#FF0000" stroke="#000" d="M455.5 45L457.5 50L463 52.5L464 54L458.5 57L455.5 56Z"/>
<path d="M155.5 36.5V352.5M172.5 36.5V352.5M188.5 36.5V352.5M205.5 36.5V352.5M222.5 36.5V352.5M238.5 36.5V352.5M255.5 36.5V352.5M272.5 36.5V352.5M288.5 36.5V352.5M305.5 36.5V352.5M322.5 36.5V352.5M339.5 36.5V352.5M355.5 36.5V352.5M372.5 36.5V352.5M389.5 36.5V352.5M405.5 36.5V352.5M422.5 36.5V352.5M439.5 36.5V352.5M455.5 36.5V352.5M472.5 36.5V352.5M155.5 36.5H472.5M155.5 53.5H472.5M155.5 69.5H472.5M155.5 86.5H472.5M155.5 103.5H472.5M155.5 119.5H472.5M155.5 136.5H472.5M155.5 152.5H472.5M155.5 169.5H472.5M155.5 186.5H472.5M155.5 202.5H472.5M155.5 219.5H472.5M155.5 236.5H472.5M155.5 252.5H472.5M155.5 269.5H472.5M155.5 285.5H472.5M155.5 302.5H472.5M155.5 319.5H472.5M155.5 335.5H472.5M155.5 352.5H472.5" stroke="#1c1c14" stroke-opacity="1" stroke-width="1" fill="none"/>
<path d="M155.5 352.5V357.5M172.5 352.5V357.5M188.5 352.5V357.5M205.5 352.5V357.5M222.5 352.5V357.5M238.5 352.5V357.5M255.5 352.5V357.5M272.5 352.5V357.5M288.5 352.5V357.5M305.5 352.5V357.5M322.5 352.5V357.5M339.5 352.5V357.5M355.5 352.5V357.5M372.5 352.5V357.5M389.5 352.5V357.5M405.5 352.5V357.5M422.5 352.5V357.5M439.5 352.5V357.5M455.5 352.5V357.5M472.5 352.5V357.5M472.5 36.5H477.5M472.5 53.5H477.5M472.5 69.5H477.5M472.5 86.5H477.5M472.5 103.5H477.5M472.5 119.5H477.5M472.5 136.5H477.5M472.5 152.5H477.5M472.5 169.5H477.5M472.5 186.5H477.5M472.5 202.5H477.5M472.5 219.5H477.5M472.5 236.5H477.5M472.5 252.5H477.5M472.5 269.5H477.5M472.5 285.5H477.5M472.5 302.5H477.5M472.5 319.5H477.5M472.5 335.5H477.5M472.5 352.5H477.5" stroke="#000" stroke-width="1" fill="none"/>
<path d="M154.5 35V353" stroke="#8080E0" stroke-width="1" fill="none"/><path d="M154 35.5H473" stroke="#3030D0" stroke-width="1" fill="none"/><path d="M155 353.5H472" stroke="#c8c8c8" stroke-width="1" fill="none" stroke-dasharray="1 1"/>
</g>
<text class="tl" transform="translate(160.0,372) rotate(45)">5</text><text class="tl" transform="translate(210.0,372) rotate(45)">20</text><text class="tl" transform="translate(260.0,372) rotate(45)">35</text><text class="tl" transform="translate(310.0,372) rotate(45)">50</text><text class="tl" transform="translate(360.0,372) rotate(45)">65</text><text class="tl" transform="translate(410.0,372) rotate(45)">80</text><text class="tl" transform="translate(460.0,372) rotate(45)">95</text>
<text class="tl" transform="translate(488,346.0) rotate(-45)">5</text><text class="tl" transform="translate(488,296.0) rotate(-45)">20</text><text class="tl" transform="translate(488,246.5) rotate(-45)">35</text><text class="tl" transform="translate(488,196.5) rotate(-45)">50</text><text class="tl" transform="translate(488,146.5) rotate(-45)">65</text><text class="tl" transform="translate(488,97.0) rotate(-45)">80</text><text class="tl" transform="translate(488,47.0) rotate(-45)">95</text>
<text class="tt" x="301" y="396" text-anchor="middle">Percentile of net worth</text>
<text class="tt" transform="translate(511,208) rotate(90)" text-anchor="middle" word-spacing="-1.4">Percentile of income</text>
</svg>
</body></html>
